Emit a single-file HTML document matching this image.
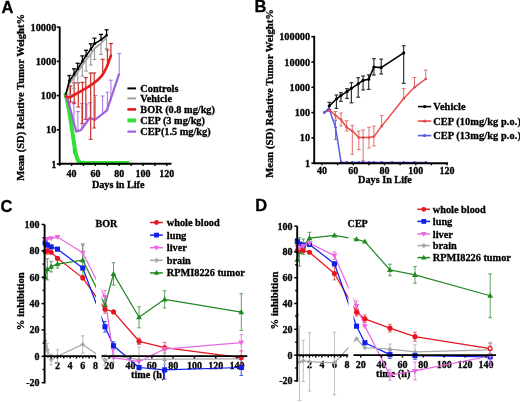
<!DOCTYPE html><html><head><meta charset="utf-8"><style>html,body{margin:0;padding:0;background:#fff;}svg{display:block;will-change:transform;filter:blur(0.45px);} text{stroke:#000;stroke-width:0.3px;}</style></head><body>
<svg width="520" height="402" viewBox="0 0 520 402">
<rect width="520" height="402" fill="#fff"/>
<defs>
<clipPath id="cL"><rect x="40" y="200" width="56" height="202"/></clipPath>
<clipPath id="cR"><rect x="101.5" y="200" width="160" height="202"/></clipPath>
<clipPath id="dL"><rect x="293" y="200" width="55.5" height="202"/></clipPath>
<clipPath id="dR"><rect x="353.5" y="200" width="160" height="202"/></clipPath>
</defs>
<text x="1.4" y="12.8" font-size="16.5" text-anchor="start" font-family='"Liberation Sans", sans-serif' font-weight="bold" fill="#000">A</text>
<text x="24.2" y="97.4" font-size="10.57" text-anchor="middle" font-family='"Liberation Serif", serif' font-weight="bold" fill="#000" transform="rotate(-90 24.2 97.4)">Mean (SD) Relative Tumor Weight%</text>
<text x="56.3" y="30.6" font-size="10.3" text-anchor="end" font-family='"Liberation Serif", serif' font-weight="bold" fill="#000">10000</text>
<text x="56.3" y="64.85" font-size="10.3" text-anchor="end" font-family='"Liberation Serif", serif' font-weight="bold" fill="#000">1000</text>
<text x="56.3" y="99.1" font-size="10.3" text-anchor="end" font-family='"Liberation Serif", serif' font-weight="bold" fill="#000">100</text>
<text x="56.3" y="133.35" font-size="10.3" text-anchor="end" font-family='"Liberation Serif", serif' font-weight="bold" fill="#000">10</text>
<text x="56.3" y="167.6" font-size="10.3" text-anchor="end" font-family='"Liberation Serif", serif' font-weight="bold" fill="#000">1</text>
<text x="71.6" y="176.8" font-size="10" text-anchor="middle" font-family='"Liberation Serif", serif' font-weight="bold" fill="#000">40</text>
<text x="95.4" y="176.8" font-size="10" text-anchor="middle" font-family='"Liberation Serif", serif' font-weight="bold" fill="#000">60</text>
<text x="119.2" y="176.8" font-size="10" text-anchor="middle" font-family='"Liberation Serif", serif' font-weight="bold" fill="#000">80</text>
<text x="143" y="176.8" font-size="10" text-anchor="middle" font-family='"Liberation Serif", serif' font-weight="bold" fill="#000">100</text>
<text x="166.8" y="176.8" font-size="10" text-anchor="middle" font-family='"Liberation Serif", serif' font-weight="bold" fill="#000">120</text>
<text x="118.2" y="187.5" font-size="10.2" text-anchor="middle" font-family='"Liberation Serif", serif' font-weight="bold" fill="#000">Days in Life</text>
<path d="M65.6,94.5 C65.97,96.05 66.87,98.88 67.8,103.8 C68.73,108.72 70.25,118.02 71.2,124 C72.15,129.98 72.83,135.28 73.5,139.7 C74.17,144.12 74.58,147.37 75.2,150.5 C75.82,153.63 76.48,156.58 77.2,158.5 C77.92,160.42 78.53,161.27 79.5,162 C80.47,162.73 74.95,162.75 83,162.9 C91.05,163.05 120.33,162.9 127.8,162.9" fill="none" stroke="#33e033" stroke-width="4.0" stroke-linejoin="round" stroke-linecap="round"/>
<line x1="73.6" y1="150" x2="73.6" y2="154" stroke="#2bc02b" stroke-width="1"/>
<line x1="72.6" y1="150" x2="74.6" y2="150" stroke="#2bc02b" stroke-width="1"/>
<line x1="70.1" y1="108.3" x2="70.1" y2="97.5" stroke="#b07be8" stroke-width="1.1"/>
<line x1="68.1" y1="97.5" x2="72.1" y2="97.5" stroke="#b07be8" stroke-width="1.1"/>
<line x1="73.9" y1="123" x2="73.9" y2="102.2" stroke="#b07be8" stroke-width="1.1"/>
<line x1="71.9" y1="102.2" x2="75.9" y2="102.2" stroke="#b07be8" stroke-width="1.1"/>
<line x1="77.9" y1="131" x2="77.9" y2="111.5" stroke="#b07be8" stroke-width="1.1"/>
<line x1="75.9" y1="111.5" x2="79.9" y2="111.5" stroke="#b07be8" stroke-width="1.1"/>
<line x1="81.8" y1="129" x2="81.8" y2="103.5" stroke="#b07be8" stroke-width="1.1"/>
<line x1="79.8" y1="103.5" x2="83.8" y2="103.5" stroke="#b07be8" stroke-width="1.1"/>
<line x1="86.8" y1="122" x2="86.8" y2="104" stroke="#b07be8" stroke-width="1.1"/>
<line x1="84.8" y1="104" x2="88.8" y2="104" stroke="#b07be8" stroke-width="1.1"/>
<line x1="90.3" y1="118" x2="90.3" y2="102.7" stroke="#b07be8" stroke-width="1.1"/>
<line x1="88.3" y1="102.7" x2="92.3" y2="102.7" stroke="#b07be8" stroke-width="1.1"/>
<line x1="95.3" y1="119.8" x2="95.3" y2="95.5" stroke="#b07be8" stroke-width="1.1"/>
<line x1="93.3" y1="95.5" x2="97.3" y2="95.5" stroke="#b07be8" stroke-width="1.1"/>
<line x1="102.6" y1="114" x2="102.6" y2="96" stroke="#b07be8" stroke-width="1.1"/>
<line x1="100.6" y1="96" x2="104.6" y2="96" stroke="#b07be8" stroke-width="1.1"/>
<line x1="107.4" y1="110.5" x2="107.4" y2="92.3" stroke="#b07be8" stroke-width="1.1"/>
<line x1="105.4" y1="92.3" x2="109.4" y2="92.3" stroke="#b07be8" stroke-width="1.1"/>
<line x1="110.9" y1="101" x2="110.9" y2="80.2" stroke="#b07be8" stroke-width="1.1"/>
<line x1="108.9" y1="80.2" x2="112.9" y2="80.2" stroke="#b07be8" stroke-width="1.1"/>
<line x1="119.2" y1="73.7" x2="119.2" y2="53.4" stroke="#b07be8" stroke-width="1.1"/>
<line x1="117.2" y1="53.4" x2="121.2" y2="53.4" stroke="#b07be8" stroke-width="1.1"/>
<polyline points="65.6,94 70.1,108.3 73.5,121.7 76.3,131.6 81,130 89.8,117.8 94.8,120 106.9,110.3 119.2,73.7" fill="none" stroke="#a25fe0" stroke-width="2.2" stroke-linejoin="round"/>
<line x1="70.5" y1="86" x2="70.5" y2="102" stroke="#c8302a" stroke-width="1.2"/>
<line x1="68.5" y1="86" x2="72.5" y2="86" stroke="#c8302a" stroke-width="1.2"/>
<line x1="68.5" y1="102" x2="72.5" y2="102" stroke="#c8302a" stroke-width="1.0"/>
<line x1="74.2" y1="82.8" x2="74.2" y2="103.7" stroke="#c8302a" stroke-width="1.2"/>
<line x1="72.2" y1="82.8" x2="76.2" y2="82.8" stroke="#c8302a" stroke-width="1.2"/>
<line x1="72.2" y1="103.7" x2="76.2" y2="103.7" stroke="#c8302a" stroke-width="1.0"/>
<line x1="78.3" y1="82.8" x2="78.3" y2="107" stroke="#c8302a" stroke-width="1.2"/>
<line x1="76.3" y1="82.8" x2="80.3" y2="82.8" stroke="#c8302a" stroke-width="1.2"/>
<line x1="76.3" y1="107" x2="80.3" y2="107" stroke="#c8302a" stroke-width="1.0"/>
<line x1="82.5" y1="82.3" x2="82.5" y2="123.7" stroke="#c8302a" stroke-width="1.2"/>
<line x1="80.5" y1="82.3" x2="84.5" y2="82.3" stroke="#c8302a" stroke-width="1.2"/>
<line x1="80.5" y1="123.7" x2="84.5" y2="123.7" stroke="#c8302a" stroke-width="1.0"/>
<line x1="85.8" y1="77.6" x2="85.8" y2="119.3" stroke="#c8302a" stroke-width="1.2"/>
<line x1="83.8" y1="77.6" x2="87.8" y2="77.6" stroke="#c8302a" stroke-width="1.2"/>
<line x1="83.8" y1="119.3" x2="87.8" y2="119.3" stroke="#c8302a" stroke-width="1.0"/>
<line x1="90.7" y1="73" x2="90.7" y2="139.3" stroke="#c8302a" stroke-width="1.2"/>
<line x1="88.7" y1="73" x2="92.7" y2="73" stroke="#c8302a" stroke-width="1.2"/>
<line x1="88.7" y1="139.3" x2="92.7" y2="139.3" stroke="#c8302a" stroke-width="1.0"/>
<line x1="94.2" y1="73" x2="94.2" y2="128" stroke="#c8302a" stroke-width="1.2"/>
<line x1="92.2" y1="73" x2="96.2" y2="73" stroke="#c8302a" stroke-width="1.2"/>
<line x1="92.2" y1="128" x2="96.2" y2="128" stroke="#c8302a" stroke-width="1.0"/>
<line x1="102.7" y1="59.3" x2="102.7" y2="75" stroke="#c8302a" stroke-width="1.2"/>
<line x1="100.7" y1="59.3" x2="104.7" y2="59.3" stroke="#c8302a" stroke-width="1.2"/>
<line x1="107.4" y1="50" x2="107.4" y2="66" stroke="#c8302a" stroke-width="1.2"/>
<line x1="105.4" y1="50" x2="109.4" y2="50" stroke="#c8302a" stroke-width="1.2"/>
<line x1="110.9" y1="43.5" x2="110.9" y2="57" stroke="#c8302a" stroke-width="1.2"/>
<line x1="108.9" y1="43.5" x2="112.9" y2="43.5" stroke="#c8302a" stroke-width="1.2"/>
<path d="M65.6,96 C66.17,96.2 67.43,97.45 69,97.2 C70.57,96.95 72.77,95.63 75,94.5 C77.23,93.37 80.23,91.65 82.4,90.4 C84.57,89.15 86.13,88.18 88,87 C89.87,85.82 91.85,84.6 93.6,83.3 C95.35,82 96.98,80.67 98.5,79.2 C100.02,77.73 101.22,76.78 102.7,74.5 C104.18,72.22 106.03,68.67 107.4,65.5 C108.77,62.33 110.32,57.17 110.9,55.5" fill="none" stroke="#e81b1b" stroke-width="2.6" stroke-linejoin="round" stroke-linecap="round"/>
<line x1="69.3" y1="84" x2="69.3" y2="95" stroke="#999" stroke-width="1.1"/>
<line x1="67.5" y1="95" x2="71.1" y2="95" stroke="#999" stroke-width="1.1"/>
<line x1="74" y1="77.5" x2="74" y2="88.5" stroke="#999" stroke-width="1.1"/>
<line x1="72.2" y1="88.5" x2="75.8" y2="88.5" stroke="#999" stroke-width="1.1"/>
<line x1="77.7" y1="72" x2="77.7" y2="83" stroke="#999" stroke-width="1.1"/>
<line x1="75.9" y1="83" x2="79.5" y2="83" stroke="#999" stroke-width="1.1"/>
<line x1="82.4" y1="65" x2="82.4" y2="76" stroke="#999" stroke-width="1.1"/>
<line x1="80.6" y1="76" x2="84.2" y2="76" stroke="#999" stroke-width="1.1"/>
<line x1="86.1" y1="60" x2="86.1" y2="71" stroke="#999" stroke-width="1.1"/>
<line x1="84.3" y1="71" x2="87.9" y2="71" stroke="#999" stroke-width="1.1"/>
<line x1="90.8" y1="54" x2="90.8" y2="65" stroke="#999" stroke-width="1.1"/>
<line x1="89" y1="65" x2="92.6" y2="65" stroke="#999" stroke-width="1.1"/>
<line x1="94.5" y1="48.5" x2="94.5" y2="59.5" stroke="#999" stroke-width="1.1"/>
<line x1="92.7" y1="59.5" x2="96.3" y2="59.5" stroke="#999" stroke-width="1.1"/>
<line x1="101" y1="43.5" x2="101" y2="54.5" stroke="#999" stroke-width="1.1"/>
<line x1="99.2" y1="54.5" x2="102.8" y2="54.5" stroke="#999" stroke-width="1.1"/>
<line x1="106.6" y1="37.5" x2="106.6" y2="48.5" stroke="#999" stroke-width="1.1"/>
<line x1="104.8" y1="48.5" x2="108.4" y2="48.5" stroke="#999" stroke-width="1.1"/>
<polyline points="65.6,95.5 69.3,84 74,77.5 77.7,72 82.4,65 86.1,60 90.8,54 94.5,48.5 101,43.5 106.6,37.5" fill="none" stroke="#a0a0a0" stroke-width="1.8" stroke-linejoin="round"/>
<line x1="69.3" y1="81" x2="69.3" y2="75.5" stroke="#000" stroke-width="1.2"/>
<line x1="67.3" y1="75.5" x2="71.3" y2="75.5" stroke="#000" stroke-width="1.3"/>
<line x1="74" y1="74.4" x2="74" y2="68.9" stroke="#000" stroke-width="1.2"/>
<line x1="72" y1="68.9" x2="76" y2="68.9" stroke="#000" stroke-width="1.3"/>
<line x1="77.7" y1="68.8" x2="77.7" y2="63.3" stroke="#000" stroke-width="1.2"/>
<line x1="75.7" y1="63.3" x2="79.7" y2="63.3" stroke="#000" stroke-width="1.3"/>
<line x1="82.4" y1="61.4" x2="82.4" y2="55.9" stroke="#000" stroke-width="1.2"/>
<line x1="80.4" y1="55.9" x2="84.4" y2="55.9" stroke="#000" stroke-width="1.3"/>
<line x1="86.1" y1="55.8" x2="86.1" y2="50.3" stroke="#000" stroke-width="1.2"/>
<line x1="84.1" y1="50.3" x2="88.1" y2="50.3" stroke="#000" stroke-width="1.3"/>
<line x1="90.8" y1="49.3" x2="90.8" y2="43.8" stroke="#000" stroke-width="1.2"/>
<line x1="88.8" y1="43.8" x2="92.8" y2="43.8" stroke="#000" stroke-width="1.3"/>
<line x1="94.5" y1="43.7" x2="94.5" y2="38.2" stroke="#000" stroke-width="1.2"/>
<line x1="92.5" y1="38.2" x2="96.5" y2="38.2" stroke="#000" stroke-width="1.3"/>
<line x1="101" y1="39.9" x2="101" y2="34.4" stroke="#000" stroke-width="1.2"/>
<line x1="99" y1="34.4" x2="103" y2="34.4" stroke="#000" stroke-width="1.3"/>
<line x1="106.6" y1="35.3" x2="106.6" y2="29.8" stroke="#000" stroke-width="1.2"/>
<line x1="104.6" y1="29.8" x2="108.6" y2="29.8" stroke="#000" stroke-width="1.3"/>
<polyline points="65.6,95 69.3,81 74,74.4 77.7,68.8 82.4,61.4 86.1,55.8 90.8,49.3 94.5,43.7 101,39.9 106.6,35.3" fill="none" stroke="#000" stroke-width="1.6" stroke-linejoin="round"/>
<rect x="68.1" y="79.8" width="2.4" height="2.4" fill="#000"/>
<rect x="72.8" y="73.2" width="2.4" height="2.4" fill="#000"/>
<rect x="76.5" y="67.6" width="2.4" height="2.4" fill="#000"/>
<rect x="81.2" y="60.2" width="2.4" height="2.4" fill="#000"/>
<rect x="84.9" y="54.6" width="2.4" height="2.4" fill="#000"/>
<rect x="89.6" y="48.1" width="2.4" height="2.4" fill="#000"/>
<rect x="93.3" y="42.5" width="2.4" height="2.4" fill="#000"/>
<rect x="99.8" y="38.7" width="2.4" height="2.4" fill="#000"/>
<rect x="105.4" y="34.1" width="2.4" height="2.4" fill="#000"/>
<line x1="59.7" y1="26.7" x2="59.7" y2="164.7" stroke="#000" stroke-width="1.9"/>
<line x1="58.8" y1="163.8" x2="171.5" y2="163.8" stroke="#000" stroke-width="1.9"/>
<line x1="56.8" y1="27.1" x2="59.7" y2="27.1" stroke="#000" stroke-width="1.6"/>
<line x1="56.8" y1="61.35" x2="59.7" y2="61.35" stroke="#000" stroke-width="1.6"/>
<line x1="56.8" y1="95.6" x2="59.7" y2="95.6" stroke="#000" stroke-width="1.6"/>
<line x1="56.8" y1="129.85" x2="59.7" y2="129.85" stroke="#000" stroke-width="1.6"/>
<line x1="56.8" y1="164.1" x2="59.7" y2="164.1" stroke="#000" stroke-width="1.6"/>
<line x1="59.7" y1="163.8" x2="59.7" y2="166" stroke="#000" stroke-width="1.4"/>
<line x1="71.6" y1="163.8" x2="71.6" y2="166" stroke="#000" stroke-width="1.4"/>
<line x1="83.5" y1="163.8" x2="83.5" y2="166" stroke="#000" stroke-width="1.4"/>
<line x1="95.4" y1="163.8" x2="95.4" y2="166" stroke="#000" stroke-width="1.4"/>
<line x1="107.3" y1="163.8" x2="107.3" y2="166" stroke="#000" stroke-width="1.4"/>
<line x1="119.2" y1="163.8" x2="119.2" y2="166" stroke="#000" stroke-width="1.4"/>
<line x1="131.1" y1="163.8" x2="131.1" y2="166" stroke="#000" stroke-width="1.4"/>
<line x1="143" y1="163.8" x2="143" y2="166" stroke="#000" stroke-width="1.4"/>
<line x1="154.9" y1="163.8" x2="154.9" y2="166" stroke="#000" stroke-width="1.4"/>
<line x1="166.8" y1="163.8" x2="166.8" y2="166" stroke="#000" stroke-width="1.4"/>
<line x1="127.4" y1="88.4" x2="136.1" y2="88.4" stroke="#000" stroke-width="2.0"/>
<text x="140.3" y="91.9" font-size="10.3" text-anchor="start" font-family='"Liberation Serif", serif' font-weight="bold" fill="#000">Controls</text>
<line x1="127.4" y1="98.4" x2="136.1" y2="98.4" stroke="#a0a0a0" stroke-width="2.0"/>
<text x="140.3" y="101.9" font-size="10.3" text-anchor="start" font-family='"Liberation Serif", serif' font-weight="bold" fill="#000">Vehicle</text>
<line x1="127.4" y1="109.4" x2="136.1" y2="109.4" stroke="#e81b1b" stroke-width="2.6"/>
<text x="140.3" y="112.9" font-size="10.3" text-anchor="start" font-family='"Liberation Serif", serif' font-weight="bold" fill="#000">BOR (0.8 mg/kg)</text>
<line x1="127.4" y1="120.4" x2="136.1" y2="120.4" stroke="#33e033" stroke-width="4"/>
<text x="140.3" y="123.9" font-size="10.3" text-anchor="start" font-family='"Liberation Serif", serif' font-weight="bold" fill="#000">CEP (3 mg/kg)</text>
<line x1="127.4" y1="131.6" x2="136.1" y2="131.6" stroke="#a25fe0" stroke-width="2.2"/>
<text x="140.3" y="135.1" font-size="10.3" text-anchor="start" font-family='"Liberation Serif", serif' font-weight="bold" fill="#000">CEP(1.5 mg/kg)</text>
<text x="254.6" y="12.4" font-size="16.5" text-anchor="start" font-family='"Liberation Sans", sans-serif' font-weight="bold" fill="#000">B</text>
<text x="273.2" y="93.4" font-size="10.7" text-anchor="middle" font-family='"Liberation Serif", serif' font-weight="bold" fill="#000" transform="rotate(-90 273.2 93.4)">Mean (SD) Relative Tumor Weight%</text>
<text x="310.1" y="166.7" font-size="10.3" text-anchor="end" font-family='"Liberation Serif", serif' font-weight="bold" fill="#000">1</text>
<text x="310.1" y="141.4" font-size="10.3" text-anchor="end" font-family='"Liberation Serif", serif' font-weight="bold" fill="#000">10</text>
<text x="310.1" y="116.1" font-size="10.3" text-anchor="end" font-family='"Liberation Serif", serif' font-weight="bold" fill="#000">100</text>
<text x="310.1" y="90.8" font-size="10.3" text-anchor="end" font-family='"Liberation Serif", serif' font-weight="bold" fill="#000">1000</text>
<text x="310.1" y="65.5" font-size="10.3" text-anchor="end" font-family='"Liberation Serif", serif' font-weight="bold" fill="#000">10000</text>
<text x="310.1" y="40.2" font-size="10.3" text-anchor="end" font-family='"Liberation Serif", serif' font-weight="bold" fill="#000">100000</text>
<text x="322" y="173.6" font-size="10" text-anchor="middle" font-family='"Liberation Serif", serif' font-weight="bold" fill="#000">40</text>
<text x="353.25" y="173.6" font-size="10" text-anchor="middle" font-family='"Liberation Serif", serif' font-weight="bold" fill="#000">60</text>
<text x="384.5" y="173.6" font-size="10" text-anchor="middle" font-family='"Liberation Serif", serif' font-weight="bold" fill="#000">80</text>
<text x="415.75" y="173.6" font-size="10" text-anchor="middle" font-family='"Liberation Serif", serif' font-weight="bold" fill="#000">100</text>
<text x="447" y="173.6" font-size="10" text-anchor="middle" font-family='"Liberation Serif", serif' font-weight="bold" fill="#000">120</text>
<text x="385" y="183.2" font-size="10.2" text-anchor="middle" font-family='"Liberation Serif", serif' font-weight="bold" fill="#000">Days In Life</text>
<line x1="335.5" y1="111.5" x2="335.5" y2="119" stroke="#e07070" stroke-width="1.0"/>
<line x1="333.7" y1="111.5" x2="337.3" y2="111.5" stroke="#e07070" stroke-width="1.0"/>
<line x1="333.7" y1="119" x2="337.3" y2="119" stroke="#e07070" stroke-width="1.0"/>
<line x1="341.1" y1="113" x2="341.1" y2="126" stroke="#e07070" stroke-width="1.0"/>
<line x1="339.3" y1="113" x2="342.9" y2="113" stroke="#e07070" stroke-width="1.0"/>
<line x1="339.3" y1="126" x2="342.9" y2="126" stroke="#e07070" stroke-width="1.0"/>
<line x1="346.7" y1="120.7" x2="346.7" y2="131" stroke="#e07070" stroke-width="1.0"/>
<line x1="344.9" y1="120.7" x2="348.5" y2="120.7" stroke="#e07070" stroke-width="1.0"/>
<line x1="344.9" y1="131" x2="348.5" y2="131" stroke="#e07070" stroke-width="1.0"/>
<line x1="352.3" y1="125.4" x2="352.3" y2="154.3" stroke="#e07070" stroke-width="1.0"/>
<line x1="350.5" y1="125.4" x2="354.1" y2="125.4" stroke="#e07070" stroke-width="1.0"/>
<line x1="350.5" y1="154.3" x2="354.1" y2="154.3" stroke="#e07070" stroke-width="1.0"/>
<line x1="358.8" y1="131" x2="358.8" y2="149.6" stroke="#e07070" stroke-width="1.0"/>
<line x1="357" y1="131" x2="360.6" y2="131" stroke="#e07070" stroke-width="1.0"/>
<line x1="357" y1="149.6" x2="360.6" y2="149.6" stroke="#e07070" stroke-width="1.0"/>
<line x1="363.1" y1="130" x2="363.1" y2="160.8" stroke="#e07070" stroke-width="1.0"/>
<line x1="361.3" y1="130" x2="364.9" y2="130" stroke="#e07070" stroke-width="1.0"/>
<line x1="361.3" y1="160.8" x2="364.9" y2="160.8" stroke="#e07070" stroke-width="1.0"/>
<line x1="369" y1="127.3" x2="369" y2="148" stroke="#e07070" stroke-width="1.0"/>
<line x1="367.2" y1="127.3" x2="370.8" y2="127.3" stroke="#e07070" stroke-width="1.0"/>
<line x1="367.2" y1="148" x2="370.8" y2="148" stroke="#e07070" stroke-width="1.0"/>
<line x1="373.9" y1="126.1" x2="373.9" y2="146" stroke="#e07070" stroke-width="1.0"/>
<line x1="372.1" y1="126.1" x2="375.7" y2="126.1" stroke="#e07070" stroke-width="1.0"/>
<line x1="372.1" y1="146" x2="375.7" y2="146" stroke="#e07070" stroke-width="1.0"/>
<line x1="381.7" y1="115.6" x2="381.7" y2="126.1" stroke="#e07070" stroke-width="1.0"/>
<line x1="379.9" y1="115.6" x2="383.5" y2="115.6" stroke="#e07070" stroke-width="1.0"/>
<line x1="403.7" y1="88.7" x2="403.7" y2="98.5" stroke="#e07070" stroke-width="1.0"/>
<line x1="401.9" y1="88.7" x2="405.5" y2="88.7" stroke="#e07070" stroke-width="1.0"/>
<line x1="414.5" y1="77.5" x2="414.5" y2="87.3" stroke="#e07070" stroke-width="1.0"/>
<line x1="412.7" y1="77.5" x2="416.3" y2="77.5" stroke="#e07070" stroke-width="1.0"/>
<line x1="425.7" y1="70.1" x2="425.7" y2="79" stroke="#e07070" stroke-width="1.0"/>
<line x1="423.9" y1="70.1" x2="427.5" y2="70.1" stroke="#e07070" stroke-width="1.0"/>
<polyline points="324.3,112.4 329.9,110.5 335.5,115.2 341.1,119.8 346.7,127.3 352.3,131 358.8,137.5 363.1,137.5 369,137.5 373.9,136.6 381.7,126.1 403.7,98.5 414.5,87.3 425.7,79" fill="none" stroke="#e84a4a" stroke-width="1.5" stroke-linejoin="round"/>
<line x1="335.5" y1="120.7" x2="335.5" y2="139.4" stroke="#7070e0" stroke-width="1.0"/>
<line x1="333.9" y1="120.7" x2="337.1" y2="120.7" stroke="#7070e0" stroke-width="1.0"/>
<line x1="333.9" y1="139.4" x2="337.1" y2="139.4" stroke="#7070e0" stroke-width="1.0"/>
<polyline points="324.3,112.4 329,108.6 335.5,127.3 341.1,162.3" fill="none" stroke="#5a5ae8" stroke-width="1.5" stroke-linejoin="round"/>
<polyline points="341.1,162.5 426,162.5" fill="none" stroke="#5a5ae8" stroke-width="1.5" stroke-linejoin="round"/>
<line x1="329.3" y1="102.3" x2="329.3" y2="109.6" stroke="#222" stroke-width="1.1"/>
<line x1="327.4" y1="102.3" x2="331.2" y2="102.3" stroke="#222" stroke-width="1.1"/>
<line x1="327.4" y1="109.6" x2="331.2" y2="109.6" stroke="#222" stroke-width="1.1"/>
<line x1="336.4" y1="95" x2="336.4" y2="108.4" stroke="#222" stroke-width="1.1"/>
<line x1="334.5" y1="95" x2="338.3" y2="95" stroke="#222" stroke-width="1.1"/>
<line x1="334.5" y1="108.4" x2="338.3" y2="108.4" stroke="#222" stroke-width="1.1"/>
<line x1="340.9" y1="92.7" x2="340.9" y2="101.3" stroke="#222" stroke-width="1.1"/>
<line x1="339" y1="92.7" x2="342.8" y2="92.7" stroke="#222" stroke-width="1.1"/>
<line x1="339" y1="101.3" x2="342.8" y2="101.3" stroke="#222" stroke-width="1.1"/>
<line x1="347" y1="88.7" x2="347" y2="98.4" stroke="#222" stroke-width="1.1"/>
<line x1="345.1" y1="88.7" x2="348.9" y2="88.7" stroke="#222" stroke-width="1.1"/>
<line x1="345.1" y1="98.4" x2="348.9" y2="98.4" stroke="#222" stroke-width="1.1"/>
<line x1="351.4" y1="82.7" x2="351.4" y2="102.8" stroke="#222" stroke-width="1.1"/>
<line x1="349.5" y1="82.7" x2="353.3" y2="82.7" stroke="#222" stroke-width="1.1"/>
<line x1="349.5" y1="102.8" x2="353.3" y2="102.8" stroke="#222" stroke-width="1.1"/>
<line x1="358.2" y1="77.7" x2="358.2" y2="97.2" stroke="#222" stroke-width="1.1"/>
<line x1="356.3" y1="77.7" x2="360.1" y2="77.7" stroke="#222" stroke-width="1.1"/>
<line x1="356.3" y1="97.2" x2="360.1" y2="97.2" stroke="#222" stroke-width="1.1"/>
<line x1="363.1" y1="76" x2="363.1" y2="90" stroke="#222" stroke-width="1.1"/>
<line x1="361.2" y1="76" x2="365" y2="76" stroke="#222" stroke-width="1.1"/>
<line x1="361.2" y1="90" x2="365" y2="90" stroke="#222" stroke-width="1.1"/>
<line x1="368.7" y1="74.8" x2="368.7" y2="89.4" stroke="#222" stroke-width="1.1"/>
<line x1="366.8" y1="74.8" x2="370.6" y2="74.8" stroke="#222" stroke-width="1.1"/>
<line x1="366.8" y1="89.4" x2="370.6" y2="89.4" stroke="#222" stroke-width="1.1"/>
<line x1="373.9" y1="58.7" x2="373.9" y2="75" stroke="#222" stroke-width="1.1"/>
<line x1="372" y1="58.7" x2="375.8" y2="58.7" stroke="#222" stroke-width="1.1"/>
<line x1="372" y1="75" x2="375.8" y2="75" stroke="#222" stroke-width="1.1"/>
<line x1="381.2" y1="59.1" x2="381.2" y2="74" stroke="#222" stroke-width="1.1"/>
<line x1="379.3" y1="59.1" x2="383.1" y2="59.1" stroke="#222" stroke-width="1.1"/>
<line x1="379.3" y1="74" x2="383.1" y2="74" stroke="#222" stroke-width="1.1"/>
<line x1="403.7" y1="45.7" x2="403.7" y2="83.3" stroke="#222" stroke-width="1.1"/>
<line x1="401.8" y1="45.7" x2="405.6" y2="45.7" stroke="#222" stroke-width="1.1"/>
<line x1="401.8" y1="83.3" x2="405.6" y2="83.3" stroke="#222" stroke-width="1.1"/>
<polyline points="329.3,105.8 336.4,99 340.9,95.6 347,91.6 351.4,88.3 358.2,83.8 363.1,80.4 368.7,79.3 373.9,67 381.2,67.6 403.7,52.9" fill="none" stroke="#000" stroke-width="1.6" stroke-linejoin="round"/>
<circle cx="324.3" cy="112.4" r="1.3" fill="#e84a4a"/>
<circle cx="329.9" cy="110.5" r="1.3" fill="#e84a4a"/>
<circle cx="335.5" cy="115.2" r="1.3" fill="#e84a4a"/>
<circle cx="341.1" cy="119.8" r="1.3" fill="#e84a4a"/>
<circle cx="346.7" cy="127.3" r="1.3" fill="#e84a4a"/>
<circle cx="352.3" cy="131" r="1.3" fill="#e84a4a"/>
<circle cx="358.8" cy="137.5" r="1.3" fill="#e84a4a"/>
<circle cx="363.1" cy="137.5" r="1.3" fill="#e84a4a"/>
<circle cx="369" cy="137.5" r="1.3" fill="#e84a4a"/>
<circle cx="373.9" cy="136.6" r="1.3" fill="#e84a4a"/>
<circle cx="381.7" cy="126.1" r="1.3" fill="#e84a4a"/>
<circle cx="403.7" cy="98.5" r="1.3" fill="#e84a4a"/>
<circle cx="414.5" cy="87.3" r="1.3" fill="#e84a4a"/>
<circle cx="425.7" cy="79" r="1.3" fill="#e84a4a"/>
<circle cx="324.3" cy="112.4" r="1.3" fill="#5a5ae8"/>
<circle cx="329" cy="108.6" r="1.3" fill="#5a5ae8"/>
<circle cx="335.5" cy="127.3" r="1.3" fill="#5a5ae8"/>
<circle cx="341.1" cy="162.3" r="1.3" fill="#5a5ae8"/>
<circle cx="346.7" cy="162.5" r="1.4" fill="#5a5ae8"/>
<circle cx="352.3" cy="162.5" r="1.4" fill="#5a5ae8"/>
<circle cx="358.8" cy="162.5" r="1.4" fill="#5a5ae8"/>
<circle cx="363.1" cy="162.5" r="1.4" fill="#5a5ae8"/>
<circle cx="369" cy="162.5" r="1.4" fill="#5a5ae8"/>
<circle cx="373.9" cy="162.5" r="1.4" fill="#5a5ae8"/>
<circle cx="381.7" cy="162.5" r="1.4" fill="#5a5ae8"/>
<circle cx="392" cy="162.5" r="1.4" fill="#5a5ae8"/>
<circle cx="403.7" cy="162.5" r="1.4" fill="#5a5ae8"/>
<circle cx="414.5" cy="162.5" r="1.4" fill="#5a5ae8"/>
<circle cx="426" cy="162.5" r="1.4" fill="#5a5ae8"/>
<circle cx="329.3" cy="105.8" r="1.6" fill="#000"/>
<circle cx="336.4" cy="99" r="1.6" fill="#000"/>
<circle cx="340.9" cy="95.6" r="1.6" fill="#000"/>
<circle cx="347" cy="91.6" r="1.6" fill="#000"/>
<circle cx="351.4" cy="88.3" r="1.6" fill="#000"/>
<circle cx="358.2" cy="83.8" r="1.6" fill="#000"/>
<circle cx="363.1" cy="80.4" r="1.6" fill="#000"/>
<circle cx="368.7" cy="79.3" r="1.6" fill="#000"/>
<circle cx="373.9" cy="67" r="1.6" fill="#000"/>
<circle cx="381.2" cy="67.6" r="1.6" fill="#000"/>
<circle cx="403.7" cy="52.9" r="1.6" fill="#000"/>
<line x1="314.2" y1="35.8" x2="314.2" y2="164.1" stroke="#000" stroke-width="1.9"/>
<line x1="313.3" y1="163.2" x2="448" y2="163.2" stroke="#000" stroke-width="1.9"/>
<line x1="311.4" y1="163.2" x2="314.2" y2="163.2" stroke="#000" stroke-width="1.6"/>
<line x1="311.4" y1="137.9" x2="314.2" y2="137.9" stroke="#000" stroke-width="1.6"/>
<line x1="311.4" y1="112.6" x2="314.2" y2="112.6" stroke="#000" stroke-width="1.6"/>
<line x1="311.4" y1="87.3" x2="314.2" y2="87.3" stroke="#000" stroke-width="1.6"/>
<line x1="311.4" y1="62" x2="314.2" y2="62" stroke="#000" stroke-width="1.6"/>
<line x1="311.4" y1="36.7" x2="314.2" y2="36.7" stroke="#000" stroke-width="1.6"/>
<line x1="322" y1="163.2" x2="322" y2="165.3" stroke="#000" stroke-width="1.4"/>
<line x1="337.62" y1="163.2" x2="337.62" y2="165.3" stroke="#000" stroke-width="1.4"/>
<line x1="353.25" y1="163.2" x2="353.25" y2="165.3" stroke="#000" stroke-width="1.4"/>
<line x1="368.88" y1="163.2" x2="368.88" y2="165.3" stroke="#000" stroke-width="1.4"/>
<line x1="384.5" y1="163.2" x2="384.5" y2="165.3" stroke="#000" stroke-width="1.4"/>
<line x1="400.12" y1="163.2" x2="400.12" y2="165.3" stroke="#000" stroke-width="1.4"/>
<line x1="415.75" y1="163.2" x2="415.75" y2="165.3" stroke="#000" stroke-width="1.4"/>
<line x1="431.38" y1="163.2" x2="431.38" y2="165.3" stroke="#000" stroke-width="1.4"/>
<line x1="447" y1="163.2" x2="447" y2="165.3" stroke="#000" stroke-width="1.4"/>
<line x1="418" y1="106.6" x2="431.2" y2="106.6" stroke="#000" stroke-width="1.6"/>
<circle cx="424.6" cy="106.6" r="1.6" fill="#000"/>
<text x="433.3" y="110" font-size="10.35" text-anchor="start" font-family='"Liberation Serif", serif' font-weight="bold" fill="#000" letter-spacing="0.08">Vehicle</text>
<line x1="418" y1="121.1" x2="431.2" y2="121.1" stroke="#e84a4a" stroke-width="1.6"/>
<circle cx="424.6" cy="121.1" r="1.6" fill="#e84a4a"/>
<text x="433.3" y="124.5" font-size="10.35" text-anchor="start" font-family='"Liberation Serif", serif' font-weight="bold" fill="#000" letter-spacing="0.08">CEP (10mg/kg p.o.)</text>
<line x1="418" y1="135.6" x2="431.2" y2="135.6" stroke="#5a5ae8" stroke-width="1.6"/>
<circle cx="424.6" cy="135.6" r="1.6" fill="#5a5ae8"/>
<text x="433.3" y="139" font-size="10.35" text-anchor="start" font-family='"Liberation Serif", serif' font-weight="bold" fill="#000" letter-spacing="0.08">CEP (13mg/kg p.o.)</text>
<text x="0.4" y="212" font-size="16.5" text-anchor="start" font-family='"Liberation Sans", sans-serif' font-weight="bold" fill="#000">C</text>
<text x="23.9" y="301.2" font-size="10.7" text-anchor="middle" font-family='"Liberation Serif", serif' font-weight="bold" fill="#000" transform="rotate(-90 23.9 301.2)">% inhibition</text>
<text x="39.6" y="227.9" font-size="10" text-anchor="end" font-family='"Liberation Serif", serif' font-weight="bold" fill="#000">100</text>
<text x="39.6" y="254.26" font-size="10" text-anchor="end" font-family='"Liberation Serif", serif' font-weight="bold" fill="#000">80</text>
<text x="39.6" y="280.62" font-size="10" text-anchor="end" font-family='"Liberation Serif", serif' font-weight="bold" fill="#000">60</text>
<text x="39.6" y="306.98" font-size="10" text-anchor="end" font-family='"Liberation Serif", serif' font-weight="bold" fill="#000">40</text>
<text x="39.6" y="333.34" font-size="10" text-anchor="end" font-family='"Liberation Serif", serif' font-weight="bold" fill="#000">20</text>
<text x="39.6" y="359.7" font-size="10" text-anchor="end" font-family='"Liberation Serif", serif' font-weight="bold" fill="#000">0</text>
<text x="39.6" y="386.06" font-size="10" text-anchor="end" font-family='"Liberation Serif", serif' font-weight="bold" fill="#000">-20</text>
<text x="57.46" y="369.3" font-size="10" text-anchor="middle" font-family='"Liberation Serif", serif' font-weight="bold" fill="#000">2</text>
<text x="70.12" y="369.3" font-size="10" text-anchor="middle" font-family='"Liberation Serif", serif' font-weight="bold" fill="#000">4</text>
<text x="82.78" y="369.3" font-size="10" text-anchor="middle" font-family='"Liberation Serif", serif' font-weight="bold" fill="#000">6</text>
<text x="95.44" y="369.3" font-size="10" text-anchor="middle" font-family='"Liberation Serif", serif' font-weight="bold" fill="#000">8</text>
<text x="109.24" y="369.3" font-size="10" text-anchor="middle" font-family='"Liberation Serif", serif' font-weight="bold" fill="#000">20</text>
<text x="130.54" y="369.3" font-size="10" text-anchor="middle" font-family='"Liberation Serif", serif' font-weight="bold" fill="#000">40</text>
<text x="151.84" y="369.3" font-size="10" text-anchor="middle" font-family='"Liberation Serif", serif' font-weight="bold" fill="#000">60</text>
<text x="173.14" y="369.3" font-size="10" text-anchor="middle" font-family='"Liberation Serif", serif' font-weight="bold" fill="#000">80</text>
<text x="194.44" y="369.3" font-size="10" text-anchor="middle" font-family='"Liberation Serif", serif' font-weight="bold" fill="#000">100</text>
<text x="215.74" y="369.3" font-size="10" text-anchor="middle" font-family='"Liberation Serif", serif' font-weight="bold" fill="#000">120</text>
<text x="237.04" y="369.3" font-size="10" text-anchor="middle" font-family='"Liberation Serif", serif' font-weight="bold" fill="#000">140</text>
<text x="131" y="378" font-size="10.2" text-anchor="start" font-family='"Liberation Serif", serif' font-weight="bold" fill="#000">time (h)</text>
<text x="95.5" y="227.2" font-size="10.1" text-anchor="start" font-family='"Liberation Serif", serif' font-weight="bold" fill="#000">BOR</text>
<g clip-path="url(#cL)">
<line x1="47.33" y1="247.56" x2="47.33" y2="254.16" stroke="#e05050" stroke-width="0.9"/>
<line x1="45.53" y1="247.56" x2="49.13" y2="247.56" stroke="#e05050" stroke-width="0.9"/>
<line x1="45.53" y1="254.16" x2="49.13" y2="254.16" stroke="#e05050" stroke-width="0.9"/>
<line x1="104.98" y1="305.29" x2="104.98" y2="313.2" stroke="#e05050" stroke-width="0.9"/>
<line x1="103.18" y1="305.29" x2="106.78" y2="305.29" stroke="#e05050" stroke-width="0.9"/>
<line x1="103.18" y1="313.2" x2="106.78" y2="313.2" stroke="#e05050" stroke-width="0.9"/>
<line x1="139.06" y1="337.98" x2="139.06" y2="344.57" stroke="#e05050" stroke-width="0.9"/>
<line x1="137.26" y1="337.98" x2="140.86" y2="337.98" stroke="#e05050" stroke-width="0.9"/>
<line x1="137.26" y1="344.57" x2="140.86" y2="344.57" stroke="#e05050" stroke-width="0.9"/>
<line x1="164.62" y1="342.46" x2="164.62" y2="353" stroke="#e05050" stroke-width="0.9"/>
<line x1="162.82" y1="342.46" x2="166.42" y2="342.46" stroke="#e05050" stroke-width="0.9"/>
<line x1="162.82" y1="353" x2="166.42" y2="353" stroke="#e05050" stroke-width="0.9"/>
<line x1="241.3" y1="351.03" x2="241.3" y2="364.21" stroke="#e05050" stroke-width="0.9"/>
<line x1="239.5" y1="351.03" x2="243.1" y2="351.03" stroke="#e05050" stroke-width="0.9"/>
<line x1="239.5" y1="364.21" x2="243.1" y2="364.21" stroke="#e05050" stroke-width="0.9"/>
<line x1="104.98" y1="321.5" x2="104.98" y2="332.05" stroke="#3040e0" stroke-width="0.9"/>
<line x1="103.18" y1="321.5" x2="106.78" y2="321.5" stroke="#3040e0" stroke-width="0.9"/>
<line x1="103.18" y1="332.05" x2="106.78" y2="332.05" stroke="#3040e0" stroke-width="0.9"/>
<line x1="113.5" y1="341.8" x2="113.5" y2="349.71" stroke="#3040e0" stroke-width="0.9"/>
<line x1="111.7" y1="341.8" x2="115.3" y2="341.8" stroke="#3040e0" stroke-width="0.9"/>
<line x1="111.7" y1="349.71" x2="115.3" y2="349.71" stroke="#3040e0" stroke-width="0.9"/>
<line x1="164.62" y1="360.65" x2="164.62" y2="379.1" stroke="#3040e0" stroke-width="0.9"/>
<line x1="162.82" y1="360.65" x2="166.42" y2="360.65" stroke="#3040e0" stroke-width="0.9"/>
<line x1="162.82" y1="379.1" x2="166.42" y2="379.1" stroke="#3040e0" stroke-width="0.9"/>
<line x1="241.3" y1="359.6" x2="241.3" y2="375.41" stroke="#3040e0" stroke-width="0.9"/>
<line x1="239.5" y1="359.6" x2="243.1" y2="359.6" stroke="#3040e0" stroke-width="0.9"/>
<line x1="239.5" y1="375.41" x2="243.1" y2="375.41" stroke="#3040e0" stroke-width="0.9"/>
<line x1="82.78" y1="243.61" x2="82.78" y2="262.06" stroke="#e080d8" stroke-width="0.9"/>
<line x1="80.98" y1="243.61" x2="84.58" y2="243.61" stroke="#e080d8" stroke-width="0.9"/>
<line x1="80.98" y1="262.06" x2="84.58" y2="262.06" stroke="#e080d8" stroke-width="0.9"/>
<line x1="104.98" y1="290.4" x2="104.98" y2="303.58" stroke="#e080d8" stroke-width="0.9"/>
<line x1="103.18" y1="290.4" x2="106.78" y2="290.4" stroke="#e080d8" stroke-width="0.9"/>
<line x1="103.18" y1="303.58" x2="106.78" y2="303.58" stroke="#e080d8" stroke-width="0.9"/>
<line x1="164.62" y1="342.46" x2="164.62" y2="355.64" stroke="#e080d8" stroke-width="0.9"/>
<line x1="162.82" y1="342.46" x2="166.42" y2="342.46" stroke="#e080d8" stroke-width="0.9"/>
<line x1="162.82" y1="355.64" x2="166.42" y2="355.64" stroke="#e080d8" stroke-width="0.9"/>
<line x1="241.3" y1="334.68" x2="241.3" y2="350.5" stroke="#e080d8" stroke-width="0.9"/>
<line x1="239.5" y1="334.68" x2="243.1" y2="334.68" stroke="#e080d8" stroke-width="0.9"/>
<line x1="239.5" y1="350.5" x2="243.1" y2="350.5" stroke="#e080d8" stroke-width="0.9"/>
<line x1="45.12" y1="334.29" x2="45.12" y2="347.47" stroke="#b0b0b0" stroke-width="0.9"/>
<line x1="43.32" y1="334.29" x2="46.92" y2="334.29" stroke="#b0b0b0" stroke-width="0.9"/>
<line x1="43.32" y1="347.47" x2="46.92" y2="347.47" stroke="#b0b0b0" stroke-width="0.9"/>
<line x1="47.33" y1="343.25" x2="47.33" y2="356.43" stroke="#b0b0b0" stroke-width="0.9"/>
<line x1="45.53" y1="343.25" x2="49.13" y2="343.25" stroke="#b0b0b0" stroke-width="0.9"/>
<line x1="45.53" y1="356.43" x2="49.13" y2="356.43" stroke="#b0b0b0" stroke-width="0.9"/>
<line x1="51.13" y1="354.32" x2="51.13" y2="364.87" stroke="#b0b0b0" stroke-width="0.9"/>
<line x1="49.33" y1="354.32" x2="52.93" y2="354.32" stroke="#b0b0b0" stroke-width="0.9"/>
<line x1="49.33" y1="364.87" x2="52.93" y2="364.87" stroke="#b0b0b0" stroke-width="0.9"/>
<line x1="57.46" y1="349.71" x2="57.46" y2="362.89" stroke="#b0b0b0" stroke-width="0.9"/>
<line x1="55.66" y1="349.71" x2="59.26" y2="349.71" stroke="#b0b0b0" stroke-width="0.9"/>
<line x1="55.66" y1="362.89" x2="59.26" y2="362.89" stroke="#b0b0b0" stroke-width="0.9"/>
<line x1="82.78" y1="335.87" x2="82.78" y2="353" stroke="#b0b0b0" stroke-width="0.9"/>
<line x1="80.98" y1="335.87" x2="84.58" y2="335.87" stroke="#b0b0b0" stroke-width="0.9"/>
<line x1="80.98" y1="353" x2="84.58" y2="353" stroke="#b0b0b0" stroke-width="0.9"/>
<line x1="104.98" y1="354.98" x2="104.98" y2="365.53" stroke="#b0b0b0" stroke-width="0.9"/>
<line x1="103.18" y1="354.98" x2="106.78" y2="354.98" stroke="#b0b0b0" stroke-width="0.9"/>
<line x1="103.18" y1="365.53" x2="106.78" y2="365.53" stroke="#b0b0b0" stroke-width="0.9"/>
<line x1="113.5" y1="349.05" x2="113.5" y2="362.23" stroke="#b0b0b0" stroke-width="0.9"/>
<line x1="111.7" y1="349.05" x2="115.3" y2="349.05" stroke="#b0b0b0" stroke-width="0.9"/>
<line x1="111.7" y1="362.23" x2="115.3" y2="362.23" stroke="#b0b0b0" stroke-width="0.9"/>
<line x1="139.06" y1="347.07" x2="139.06" y2="370.8" stroke="#b0b0b0" stroke-width="0.9"/>
<line x1="137.26" y1="347.07" x2="140.86" y2="347.07" stroke="#b0b0b0" stroke-width="0.9"/>
<line x1="137.26" y1="370.8" x2="140.86" y2="370.8" stroke="#b0b0b0" stroke-width="0.9"/>
<line x1="164.62" y1="351.03" x2="164.62" y2="364.21" stroke="#b0b0b0" stroke-width="0.9"/>
<line x1="162.82" y1="351.03" x2="166.42" y2="351.03" stroke="#b0b0b0" stroke-width="0.9"/>
<line x1="162.82" y1="364.21" x2="166.42" y2="364.21" stroke="#b0b0b0" stroke-width="0.9"/>
<line x1="47.33" y1="258.77" x2="47.33" y2="279.86" stroke="#4a9a4a" stroke-width="0.9"/>
<line x1="45.53" y1="258.77" x2="49.13" y2="258.77" stroke="#4a9a4a" stroke-width="0.9"/>
<line x1="45.53" y1="279.86" x2="49.13" y2="279.86" stroke="#4a9a4a" stroke-width="0.9"/>
<line x1="51.13" y1="261.4" x2="51.13" y2="271.95" stroke="#4a9a4a" stroke-width="0.9"/>
<line x1="49.33" y1="261.4" x2="52.93" y2="261.4" stroke="#4a9a4a" stroke-width="0.9"/>
<line x1="49.33" y1="271.95" x2="52.93" y2="271.95" stroke="#4a9a4a" stroke-width="0.9"/>
<line x1="57.46" y1="260.09" x2="57.46" y2="267.99" stroke="#4a9a4a" stroke-width="0.9"/>
<line x1="55.66" y1="260.09" x2="59.26" y2="260.09" stroke="#4a9a4a" stroke-width="0.9"/>
<line x1="55.66" y1="267.99" x2="59.26" y2="267.99" stroke="#4a9a4a" stroke-width="0.9"/>
<line x1="82.78" y1="244.93" x2="82.78" y2="275.24" stroke="#4a9a4a" stroke-width="0.9"/>
<line x1="80.98" y1="244.93" x2="84.58" y2="244.93" stroke="#4a9a4a" stroke-width="0.9"/>
<line x1="80.98" y1="275.24" x2="84.58" y2="275.24" stroke="#4a9a4a" stroke-width="0.9"/>
<line x1="104.98" y1="300.02" x2="104.98" y2="310.57" stroke="#4a9a4a" stroke-width="0.9"/>
<line x1="103.18" y1="300.02" x2="106.78" y2="300.02" stroke="#4a9a4a" stroke-width="0.9"/>
<line x1="103.18" y1="310.57" x2="106.78" y2="310.57" stroke="#4a9a4a" stroke-width="0.9"/>
<line x1="113.5" y1="262.72" x2="113.5" y2="285.13" stroke="#4a9a4a" stroke-width="0.9"/>
<line x1="111.7" y1="262.72" x2="115.3" y2="262.72" stroke="#4a9a4a" stroke-width="0.9"/>
<line x1="111.7" y1="285.13" x2="115.3" y2="285.13" stroke="#4a9a4a" stroke-width="0.9"/>
<line x1="139.06" y1="306.74" x2="139.06" y2="327.83" stroke="#4a9a4a" stroke-width="0.9"/>
<line x1="137.26" y1="306.74" x2="140.86" y2="306.74" stroke="#4a9a4a" stroke-width="0.9"/>
<line x1="137.26" y1="327.83" x2="140.86" y2="327.83" stroke="#4a9a4a" stroke-width="0.9"/>
<line x1="164.62" y1="290.8" x2="164.62" y2="307.93" stroke="#4a9a4a" stroke-width="0.9"/>
<line x1="162.82" y1="290.8" x2="166.42" y2="290.8" stroke="#4a9a4a" stroke-width="0.9"/>
<line x1="162.82" y1="307.93" x2="166.42" y2="307.93" stroke="#4a9a4a" stroke-width="0.9"/>
<line x1="241.3" y1="293.69" x2="241.3" y2="330.6" stroke="#4a9a4a" stroke-width="0.9"/>
<line x1="239.5" y1="293.69" x2="243.1" y2="293.69" stroke="#4a9a4a" stroke-width="0.9"/>
<line x1="239.5" y1="330.6" x2="243.1" y2="330.6" stroke="#4a9a4a" stroke-width="0.9"/>
<polyline points="45.12,251.52 47.33,250.86 51.13,252.18 57.46,258.24 82.78,277.88 104.98,309.25 113.5,311.88 139.06,341.27 164.62,347.73 241.3,357.62" fill="none" stroke="#e8141e" stroke-width="1.25" stroke-linejoin="round"/>
<polyline points="45.12,242.95 47.33,244.93 51.13,246.91 57.46,249.15 82.78,267.99 104.98,326.78 113.5,345.76 139.06,367.5 164.62,369.88 241.3,367.5" fill="none" stroke="#1020e8" stroke-width="1.25" stroke-linejoin="round"/>
<polyline points="45.12,240.32 47.33,239 51.13,238.34 57.46,237.02 82.78,252.84 104.98,296.99 113.5,357.62 139.06,361.57 164.62,349.05 241.3,342.59" fill="none" stroke="#ea68e0" stroke-width="1.25" stroke-linejoin="round"/>
<polyline points="45.12,340.88 47.33,349.84 51.13,359.6 57.46,356.3 82.78,344.44 104.98,360.25 113.5,355.64 139.06,359.6 164.62,359.2 241.3,358.94" fill="none" stroke="#a8a8a8" stroke-width="1.25" stroke-linejoin="round"/>
<polyline points="45.12,277.22 47.33,269.31 51.13,266.68 57.46,264.04 82.78,260.09 104.98,305.29 113.5,273.93 139.06,317.29 164.62,299.36 241.3,312.15" fill="none" stroke="#238a23" stroke-width="1.25" stroke-linejoin="round"/>
</g>
<g clip-path="url(#cR)">
<line x1="47.33" y1="247.56" x2="47.33" y2="254.16" stroke="#e05050" stroke-width="0.9"/>
<line x1="45.53" y1="247.56" x2="49.13" y2="247.56" stroke="#e05050" stroke-width="0.9"/>
<line x1="45.53" y1="254.16" x2="49.13" y2="254.16" stroke="#e05050" stroke-width="0.9"/>
<line x1="104.98" y1="305.29" x2="104.98" y2="313.2" stroke="#e05050" stroke-width="0.9"/>
<line x1="103.18" y1="305.29" x2="106.78" y2="305.29" stroke="#e05050" stroke-width="0.9"/>
<line x1="103.18" y1="313.2" x2="106.78" y2="313.2" stroke="#e05050" stroke-width="0.9"/>
<line x1="139.06" y1="337.98" x2="139.06" y2="344.57" stroke="#e05050" stroke-width="0.9"/>
<line x1="137.26" y1="337.98" x2="140.86" y2="337.98" stroke="#e05050" stroke-width="0.9"/>
<line x1="137.26" y1="344.57" x2="140.86" y2="344.57" stroke="#e05050" stroke-width="0.9"/>
<line x1="164.62" y1="342.46" x2="164.62" y2="353" stroke="#e05050" stroke-width="0.9"/>
<line x1="162.82" y1="342.46" x2="166.42" y2="342.46" stroke="#e05050" stroke-width="0.9"/>
<line x1="162.82" y1="353" x2="166.42" y2="353" stroke="#e05050" stroke-width="0.9"/>
<line x1="241.3" y1="351.03" x2="241.3" y2="364.21" stroke="#e05050" stroke-width="0.9"/>
<line x1="239.5" y1="351.03" x2="243.1" y2="351.03" stroke="#e05050" stroke-width="0.9"/>
<line x1="239.5" y1="364.21" x2="243.1" y2="364.21" stroke="#e05050" stroke-width="0.9"/>
<line x1="104.98" y1="321.5" x2="104.98" y2="332.05" stroke="#3040e0" stroke-width="0.9"/>
<line x1="103.18" y1="321.5" x2="106.78" y2="321.5" stroke="#3040e0" stroke-width="0.9"/>
<line x1="103.18" y1="332.05" x2="106.78" y2="332.05" stroke="#3040e0" stroke-width="0.9"/>
<line x1="113.5" y1="341.8" x2="113.5" y2="349.71" stroke="#3040e0" stroke-width="0.9"/>
<line x1="111.7" y1="341.8" x2="115.3" y2="341.8" stroke="#3040e0" stroke-width="0.9"/>
<line x1="111.7" y1="349.71" x2="115.3" y2="349.71" stroke="#3040e0" stroke-width="0.9"/>
<line x1="164.62" y1="360.65" x2="164.62" y2="379.1" stroke="#3040e0" stroke-width="0.9"/>
<line x1="162.82" y1="360.65" x2="166.42" y2="360.65" stroke="#3040e0" stroke-width="0.9"/>
<line x1="162.82" y1="379.1" x2="166.42" y2="379.1" stroke="#3040e0" stroke-width="0.9"/>
<line x1="241.3" y1="359.6" x2="241.3" y2="375.41" stroke="#3040e0" stroke-width="0.9"/>
<line x1="239.5" y1="359.6" x2="243.1" y2="359.6" stroke="#3040e0" stroke-width="0.9"/>
<line x1="239.5" y1="375.41" x2="243.1" y2="375.41" stroke="#3040e0" stroke-width="0.9"/>
<line x1="82.78" y1="243.61" x2="82.78" y2="262.06" stroke="#e080d8" stroke-width="0.9"/>
<line x1="80.98" y1="243.61" x2="84.58" y2="243.61" stroke="#e080d8" stroke-width="0.9"/>
<line x1="80.98" y1="262.06" x2="84.58" y2="262.06" stroke="#e080d8" stroke-width="0.9"/>
<line x1="104.98" y1="290.4" x2="104.98" y2="303.58" stroke="#e080d8" stroke-width="0.9"/>
<line x1="103.18" y1="290.4" x2="106.78" y2="290.4" stroke="#e080d8" stroke-width="0.9"/>
<line x1="103.18" y1="303.58" x2="106.78" y2="303.58" stroke="#e080d8" stroke-width="0.9"/>
<line x1="164.62" y1="342.46" x2="164.62" y2="355.64" stroke="#e080d8" stroke-width="0.9"/>
<line x1="162.82" y1="342.46" x2="166.42" y2="342.46" stroke="#e080d8" stroke-width="0.9"/>
<line x1="162.82" y1="355.64" x2="166.42" y2="355.64" stroke="#e080d8" stroke-width="0.9"/>
<line x1="241.3" y1="334.68" x2="241.3" y2="350.5" stroke="#e080d8" stroke-width="0.9"/>
<line x1="239.5" y1="334.68" x2="243.1" y2="334.68" stroke="#e080d8" stroke-width="0.9"/>
<line x1="239.5" y1="350.5" x2="243.1" y2="350.5" stroke="#e080d8" stroke-width="0.9"/>
<line x1="45.12" y1="334.29" x2="45.12" y2="347.47" stroke="#b0b0b0" stroke-width="0.9"/>
<line x1="43.32" y1="334.29" x2="46.92" y2="334.29" stroke="#b0b0b0" stroke-width="0.9"/>
<line x1="43.32" y1="347.47" x2="46.92" y2="347.47" stroke="#b0b0b0" stroke-width="0.9"/>
<line x1="47.33" y1="343.25" x2="47.33" y2="356.43" stroke="#b0b0b0" stroke-width="0.9"/>
<line x1="45.53" y1="343.25" x2="49.13" y2="343.25" stroke="#b0b0b0" stroke-width="0.9"/>
<line x1="45.53" y1="356.43" x2="49.13" y2="356.43" stroke="#b0b0b0" stroke-width="0.9"/>
<line x1="51.13" y1="354.32" x2="51.13" y2="364.87" stroke="#b0b0b0" stroke-width="0.9"/>
<line x1="49.33" y1="354.32" x2="52.93" y2="354.32" stroke="#b0b0b0" stroke-width="0.9"/>
<line x1="49.33" y1="364.87" x2="52.93" y2="364.87" stroke="#b0b0b0" stroke-width="0.9"/>
<line x1="57.46" y1="349.71" x2="57.46" y2="362.89" stroke="#b0b0b0" stroke-width="0.9"/>
<line x1="55.66" y1="349.71" x2="59.26" y2="349.71" stroke="#b0b0b0" stroke-width="0.9"/>
<line x1="55.66" y1="362.89" x2="59.26" y2="362.89" stroke="#b0b0b0" stroke-width="0.9"/>
<line x1="82.78" y1="335.87" x2="82.78" y2="353" stroke="#b0b0b0" stroke-width="0.9"/>
<line x1="80.98" y1="335.87" x2="84.58" y2="335.87" stroke="#b0b0b0" stroke-width="0.9"/>
<line x1="80.98" y1="353" x2="84.58" y2="353" stroke="#b0b0b0" stroke-width="0.9"/>
<line x1="104.98" y1="354.98" x2="104.98" y2="365.53" stroke="#b0b0b0" stroke-width="0.9"/>
<line x1="103.18" y1="354.98" x2="106.78" y2="354.98" stroke="#b0b0b0" stroke-width="0.9"/>
<line x1="103.18" y1="365.53" x2="106.78" y2="365.53" stroke="#b0b0b0" stroke-width="0.9"/>
<line x1="113.5" y1="349.05" x2="113.5" y2="362.23" stroke="#b0b0b0" stroke-width="0.9"/>
<line x1="111.7" y1="349.05" x2="115.3" y2="349.05" stroke="#b0b0b0" stroke-width="0.9"/>
<line x1="111.7" y1="362.23" x2="115.3" y2="362.23" stroke="#b0b0b0" stroke-width="0.9"/>
<line x1="139.06" y1="347.07" x2="139.06" y2="370.8" stroke="#b0b0b0" stroke-width="0.9"/>
<line x1="137.26" y1="347.07" x2="140.86" y2="347.07" stroke="#b0b0b0" stroke-width="0.9"/>
<line x1="137.26" y1="370.8" x2="140.86" y2="370.8" stroke="#b0b0b0" stroke-width="0.9"/>
<line x1="164.62" y1="351.03" x2="164.62" y2="364.21" stroke="#b0b0b0" stroke-width="0.9"/>
<line x1="162.82" y1="351.03" x2="166.42" y2="351.03" stroke="#b0b0b0" stroke-width="0.9"/>
<line x1="162.82" y1="364.21" x2="166.42" y2="364.21" stroke="#b0b0b0" stroke-width="0.9"/>
<line x1="47.33" y1="258.77" x2="47.33" y2="279.86" stroke="#4a9a4a" stroke-width="0.9"/>
<line x1="45.53" y1="258.77" x2="49.13" y2="258.77" stroke="#4a9a4a" stroke-width="0.9"/>
<line x1="45.53" y1="279.86" x2="49.13" y2="279.86" stroke="#4a9a4a" stroke-width="0.9"/>
<line x1="51.13" y1="261.4" x2="51.13" y2="271.95" stroke="#4a9a4a" stroke-width="0.9"/>
<line x1="49.33" y1="261.4" x2="52.93" y2="261.4" stroke="#4a9a4a" stroke-width="0.9"/>
<line x1="49.33" y1="271.95" x2="52.93" y2="271.95" stroke="#4a9a4a" stroke-width="0.9"/>
<line x1="57.46" y1="260.09" x2="57.46" y2="267.99" stroke="#4a9a4a" stroke-width="0.9"/>
<line x1="55.66" y1="260.09" x2="59.26" y2="260.09" stroke="#4a9a4a" stroke-width="0.9"/>
<line x1="55.66" y1="267.99" x2="59.26" y2="267.99" stroke="#4a9a4a" stroke-width="0.9"/>
<line x1="82.78" y1="244.93" x2="82.78" y2="275.24" stroke="#4a9a4a" stroke-width="0.9"/>
<line x1="80.98" y1="244.93" x2="84.58" y2="244.93" stroke="#4a9a4a" stroke-width="0.9"/>
<line x1="80.98" y1="275.24" x2="84.58" y2="275.24" stroke="#4a9a4a" stroke-width="0.9"/>
<line x1="104.98" y1="300.02" x2="104.98" y2="310.57" stroke="#4a9a4a" stroke-width="0.9"/>
<line x1="103.18" y1="300.02" x2="106.78" y2="300.02" stroke="#4a9a4a" stroke-width="0.9"/>
<line x1="103.18" y1="310.57" x2="106.78" y2="310.57" stroke="#4a9a4a" stroke-width="0.9"/>
<line x1="113.5" y1="262.72" x2="113.5" y2="285.13" stroke="#4a9a4a" stroke-width="0.9"/>
<line x1="111.7" y1="262.72" x2="115.3" y2="262.72" stroke="#4a9a4a" stroke-width="0.9"/>
<line x1="111.7" y1="285.13" x2="115.3" y2="285.13" stroke="#4a9a4a" stroke-width="0.9"/>
<line x1="139.06" y1="306.74" x2="139.06" y2="327.83" stroke="#4a9a4a" stroke-width="0.9"/>
<line x1="137.26" y1="306.74" x2="140.86" y2="306.74" stroke="#4a9a4a" stroke-width="0.9"/>
<line x1="137.26" y1="327.83" x2="140.86" y2="327.83" stroke="#4a9a4a" stroke-width="0.9"/>
<line x1="164.62" y1="290.8" x2="164.62" y2="307.93" stroke="#4a9a4a" stroke-width="0.9"/>
<line x1="162.82" y1="290.8" x2="166.42" y2="290.8" stroke="#4a9a4a" stroke-width="0.9"/>
<line x1="162.82" y1="307.93" x2="166.42" y2="307.93" stroke="#4a9a4a" stroke-width="0.9"/>
<line x1="241.3" y1="293.69" x2="241.3" y2="330.6" stroke="#4a9a4a" stroke-width="0.9"/>
<line x1="239.5" y1="293.69" x2="243.1" y2="293.69" stroke="#4a9a4a" stroke-width="0.9"/>
<line x1="239.5" y1="330.6" x2="243.1" y2="330.6" stroke="#4a9a4a" stroke-width="0.9"/>
<polyline points="45.12,251.52 47.33,250.86 51.13,252.18 57.46,258.24 82.78,277.88 104.98,309.25 113.5,311.88 139.06,341.27 164.62,347.73 241.3,357.62" fill="none" stroke="#e8141e" stroke-width="1.25" stroke-linejoin="round"/>
<polyline points="45.12,242.95 47.33,244.93 51.13,246.91 57.46,249.15 82.78,267.99 104.98,326.78 113.5,345.76 139.06,367.5 164.62,369.88 241.3,367.5" fill="none" stroke="#1020e8" stroke-width="1.25" stroke-linejoin="round"/>
<polyline points="45.12,240.32 47.33,239 51.13,238.34 57.46,237.02 82.78,252.84 104.98,296.99 113.5,357.62 139.06,361.57 164.62,349.05 241.3,342.59" fill="none" stroke="#ea68e0" stroke-width="1.25" stroke-linejoin="round"/>
<polyline points="45.12,340.88 47.33,349.84 51.13,359.6 57.46,356.3 82.78,344.44 104.98,360.25 113.5,355.64 139.06,359.6 164.62,359.2 241.3,358.94" fill="none" stroke="#a8a8a8" stroke-width="1.25" stroke-linejoin="round"/>
<polyline points="45.12,277.22 47.33,269.31 51.13,266.68 57.46,264.04 82.78,260.09 104.98,305.29 113.5,273.93 139.06,317.29 164.62,299.36 241.3,312.15" fill="none" stroke="#238a23" stroke-width="1.25" stroke-linejoin="round"/>
</g>
<g clip-path="url(#cL)">
<path d="M42.18,279.26 L48.05,279.26 L45.12,274.16 Z" fill="#238a23"/>
<path d="M44.4,271.35 L50.26,271.35 L47.33,266.25 Z" fill="#238a23"/>
<path d="M48.2,268.72 L54.06,268.72 L51.13,263.62 Z" fill="#238a23"/>
<path d="M54.53,266.08 L60.39,266.08 L57.46,260.98 Z" fill="#238a23"/>
<path d="M79.85,262.13 L85.71,262.13 L82.78,257.03 Z" fill="#238a23"/>
<path d="M102.05,307.33 L107.91,307.33 L104.98,302.23 Z" fill="#238a23"/>
<path d="M110.57,275.97 L116.43,275.97 L113.5,270.87 Z" fill="#238a23"/>
<path d="M136.13,319.33 L141.99,319.33 L139.06,314.23 Z" fill="#238a23"/>
<path d="M161.69,301.4 L167.55,301.4 L164.62,296.3 Z" fill="#238a23"/>
<path d="M238.37,314.19 L244.23,314.19 L241.3,309.09 Z" fill="#238a23"/>
<path d="M45.12,338.48 L47.52,340.88 L45.12,343.28 L42.72,340.88 Z" fill="#a8a8a8"/>
<path d="M47.33,347.44 L49.73,349.84 L47.33,352.24 L44.93,349.84 Z" fill="#a8a8a8"/>
<path d="M51.13,357.2 L53.53,359.6 L51.13,362 L48.73,359.6 Z" fill="#a8a8a8"/>
<path d="M57.46,353.9 L59.86,356.3 L57.46,358.7 L55.06,356.3 Z" fill="#a8a8a8"/>
<path d="M82.78,342.04 L85.18,344.44 L82.78,346.84 L80.38,344.44 Z" fill="#a8a8a8"/>
<path d="M104.98,357.85 L107.38,360.25 L104.98,362.65 L102.58,360.25 Z" fill="#a8a8a8"/>
<path d="M113.5,353.24 L115.9,355.64 L113.5,358.04 L111.1,355.64 Z" fill="#a8a8a8"/>
<path d="M139.06,357.2 L141.46,359.6 L139.06,362 L136.66,359.6 Z" fill="#a8a8a8"/>
<path d="M164.62,356.8 L167.02,359.2 L164.62,361.6 L162.22,359.2 Z" fill="#a8a8a8"/>
<path d="M241.3,356.54 L243.7,358.94 L241.3,361.34 L238.9,358.94 Z" fill="#a8a8a8"/>
<rect x="42.57" y="240.4" width="5.1" height="5.1" fill="#1020e8"/>
<rect x="44.78" y="242.38" width="5.1" height="5.1" fill="#1020e8"/>
<rect x="48.58" y="244.36" width="5.1" height="5.1" fill="#1020e8"/>
<rect x="54.91" y="246.6" width="5.1" height="5.1" fill="#1020e8"/>
<rect x="80.23" y="265.44" width="5.1" height="5.1" fill="#1020e8"/>
<rect x="102.43" y="324.23" width="5.1" height="5.1" fill="#1020e8"/>
<rect x="110.95" y="343.21" width="5.1" height="5.1" fill="#1020e8"/>
<rect x="136.51" y="364.95" width="5.1" height="5.1" fill="#1020e8"/>
<rect x="162.07" y="367.33" width="5.1" height="5.1" fill="#1020e8"/>
<rect x="238.75" y="364.95" width="5.1" height="5.1" fill="#1020e8"/>
<circle cx="45.12" cy="251.52" r="2.55" fill="#e8141e"/>
<circle cx="47.33" cy="250.86" r="2.55" fill="#e8141e"/>
<circle cx="51.13" cy="252.18" r="2.55" fill="#e8141e"/>
<circle cx="57.46" cy="258.24" r="2.55" fill="#e8141e"/>
<circle cx="82.78" cy="277.88" r="2.55" fill="#e8141e"/>
<circle cx="104.98" cy="309.25" r="2.55" fill="#e8141e"/>
<circle cx="113.5" cy="311.88" r="2.55" fill="#e8141e"/>
<circle cx="139.06" cy="341.27" r="2.55" fill="#e8141e"/>
<circle cx="164.62" cy="347.73" r="2.55" fill="#e8141e"/>
<circle cx="241.3" cy="357.62" r="2.55" fill="#e8141e"/>
<path d="M42.18,238.28 L48.05,238.28 L45.12,243.38 Z" fill="#ea68e0"/>
<path d="M44.4,236.96 L50.26,236.96 L47.33,242.06 Z" fill="#ea68e0"/>
<path d="M48.2,236.3 L54.06,236.3 L51.13,241.4 Z" fill="#ea68e0"/>
<path d="M54.53,234.98 L60.39,234.98 L57.46,240.08 Z" fill="#ea68e0"/>
<path d="M79.85,250.8 L85.71,250.8 L82.78,255.9 Z" fill="#ea68e0"/>
<path d="M102.05,294.95 L107.91,294.95 L104.98,300.05 Z" fill="#ea68e0"/>
<path d="M110.57,355.58 L116.43,355.58 L113.5,360.68 Z" fill="#ea68e0"/>
<path d="M136.13,359.53 L141.99,359.53 L139.06,364.63 Z" fill="#ea68e0"/>
<path d="M161.69,347.01 L167.55,347.01 L164.62,352.11 Z" fill="#ea68e0"/>
<path d="M238.37,340.55 L244.23,340.55 L241.3,345.65 Z" fill="#ea68e0"/>
</g>
<g clip-path="url(#cR)">
<path d="M42.18,279.26 L48.05,279.26 L45.12,274.16 Z" fill="#238a23"/>
<path d="M44.4,271.35 L50.26,271.35 L47.33,266.25 Z" fill="#238a23"/>
<path d="M48.2,268.72 L54.06,268.72 L51.13,263.62 Z" fill="#238a23"/>
<path d="M54.53,266.08 L60.39,266.08 L57.46,260.98 Z" fill="#238a23"/>
<path d="M79.85,262.13 L85.71,262.13 L82.78,257.03 Z" fill="#238a23"/>
<path d="M102.05,307.33 L107.91,307.33 L104.98,302.23 Z" fill="#238a23"/>
<path d="M110.57,275.97 L116.43,275.97 L113.5,270.87 Z" fill="#238a23"/>
<path d="M136.13,319.33 L141.99,319.33 L139.06,314.23 Z" fill="#238a23"/>
<path d="M161.69,301.4 L167.55,301.4 L164.62,296.3 Z" fill="#238a23"/>
<path d="M238.37,314.19 L244.23,314.19 L241.3,309.09 Z" fill="#238a23"/>
<path d="M45.12,338.48 L47.52,340.88 L45.12,343.28 L42.72,340.88 Z" fill="#a8a8a8"/>
<path d="M47.33,347.44 L49.73,349.84 L47.33,352.24 L44.93,349.84 Z" fill="#a8a8a8"/>
<path d="M51.13,357.2 L53.53,359.6 L51.13,362 L48.73,359.6 Z" fill="#a8a8a8"/>
<path d="M57.46,353.9 L59.86,356.3 L57.46,358.7 L55.06,356.3 Z" fill="#a8a8a8"/>
<path d="M82.78,342.04 L85.18,344.44 L82.78,346.84 L80.38,344.44 Z" fill="#a8a8a8"/>
<path d="M104.98,357.85 L107.38,360.25 L104.98,362.65 L102.58,360.25 Z" fill="#a8a8a8"/>
<path d="M113.5,353.24 L115.9,355.64 L113.5,358.04 L111.1,355.64 Z" fill="#a8a8a8"/>
<path d="M139.06,357.2 L141.46,359.6 L139.06,362 L136.66,359.6 Z" fill="#a8a8a8"/>
<path d="M164.62,356.8 L167.02,359.2 L164.62,361.6 L162.22,359.2 Z" fill="#a8a8a8"/>
<path d="M241.3,356.54 L243.7,358.94 L241.3,361.34 L238.9,358.94 Z" fill="#a8a8a8"/>
<rect x="42.57" y="240.4" width="5.1" height="5.1" fill="#1020e8"/>
<rect x="44.78" y="242.38" width="5.1" height="5.1" fill="#1020e8"/>
<rect x="48.58" y="244.36" width="5.1" height="5.1" fill="#1020e8"/>
<rect x="54.91" y="246.6" width="5.1" height="5.1" fill="#1020e8"/>
<rect x="80.23" y="265.44" width="5.1" height="5.1" fill="#1020e8"/>
<rect x="102.43" y="324.23" width="5.1" height="5.1" fill="#1020e8"/>
<rect x="110.95" y="343.21" width="5.1" height="5.1" fill="#1020e8"/>
<rect x="136.51" y="364.95" width="5.1" height="5.1" fill="#1020e8"/>
<rect x="162.07" y="367.33" width="5.1" height="5.1" fill="#1020e8"/>
<rect x="238.75" y="364.95" width="5.1" height="5.1" fill="#1020e8"/>
<circle cx="45.12" cy="251.52" r="2.55" fill="#e8141e"/>
<circle cx="47.33" cy="250.86" r="2.55" fill="#e8141e"/>
<circle cx="51.13" cy="252.18" r="2.55" fill="#e8141e"/>
<circle cx="57.46" cy="258.24" r="2.55" fill="#e8141e"/>
<circle cx="82.78" cy="277.88" r="2.55" fill="#e8141e"/>
<circle cx="104.98" cy="309.25" r="2.55" fill="#e8141e"/>
<circle cx="113.5" cy="311.88" r="2.55" fill="#e8141e"/>
<circle cx="139.06" cy="341.27" r="2.55" fill="#e8141e"/>
<circle cx="164.62" cy="347.73" r="2.55" fill="#e8141e"/>
<circle cx="241.3" cy="357.62" r="2.55" fill="#e8141e"/>
<path d="M42.18,238.28 L48.05,238.28 L45.12,243.38 Z" fill="#ea68e0"/>
<path d="M44.4,236.96 L50.26,236.96 L47.33,242.06 Z" fill="#ea68e0"/>
<path d="M48.2,236.3 L54.06,236.3 L51.13,241.4 Z" fill="#ea68e0"/>
<path d="M54.53,234.98 L60.39,234.98 L57.46,240.08 Z" fill="#ea68e0"/>
<path d="M79.85,250.8 L85.71,250.8 L82.78,255.9 Z" fill="#ea68e0"/>
<path d="M102.05,294.95 L107.91,294.95 L104.98,300.05 Z" fill="#ea68e0"/>
<path d="M110.57,355.58 L116.43,355.58 L113.5,360.68 Z" fill="#ea68e0"/>
<path d="M136.13,359.53 L141.99,359.53 L139.06,364.63 Z" fill="#ea68e0"/>
<path d="M161.69,347.01 L167.55,347.01 L164.62,352.11 Z" fill="#ea68e0"/>
<path d="M238.37,340.55 L244.23,340.55 L241.3,345.65 Z" fill="#ea68e0"/>
</g>
<line x1="44.6" y1="224.5" x2="44.6" y2="383.46" stroke="#000" stroke-width="1.9"/>
<line x1="41.6" y1="382.66" x2="44.6" y2="382.66" stroke="#000" stroke-width="1.5"/>
<line x1="42.6" y1="369.48" x2="44.6" y2="369.48" stroke="#000" stroke-width="1.5"/>
<line x1="41.6" y1="356.3" x2="44.6" y2="356.3" stroke="#000" stroke-width="1.5"/>
<line x1="42.6" y1="343.12" x2="44.6" y2="343.12" stroke="#000" stroke-width="1.5"/>
<line x1="41.6" y1="329.94" x2="44.6" y2="329.94" stroke="#000" stroke-width="1.5"/>
<line x1="42.6" y1="316.76" x2="44.6" y2="316.76" stroke="#000" stroke-width="1.5"/>
<line x1="41.6" y1="303.58" x2="44.6" y2="303.58" stroke="#000" stroke-width="1.5"/>
<line x1="42.6" y1="290.4" x2="44.6" y2="290.4" stroke="#000" stroke-width="1.5"/>
<line x1="41.6" y1="277.22" x2="44.6" y2="277.22" stroke="#000" stroke-width="1.5"/>
<line x1="42.6" y1="264.04" x2="44.6" y2="264.04" stroke="#000" stroke-width="1.5"/>
<line x1="41.6" y1="250.86" x2="44.6" y2="250.86" stroke="#000" stroke-width="1.5"/>
<line x1="42.6" y1="237.68" x2="44.6" y2="237.68" stroke="#000" stroke-width="1.5"/>
<line x1="41.6" y1="224.5" x2="44.6" y2="224.5" stroke="#000" stroke-width="1.5"/>
<line x1="43.7" y1="356.1" x2="95.8" y2="356.1" stroke="#000" stroke-width="1.9"/>
<line x1="101.5" y1="356.1" x2="247.3" y2="356.1" stroke="#000" stroke-width="1.9"/>
<line x1="47.96" y1="356.1" x2="47.96" y2="357.8" stroke="#000" stroke-width="1.2"/>
<line x1="51.13" y1="356.1" x2="51.13" y2="358.6" stroke="#000" stroke-width="1.5"/>
<line x1="54.3" y1="356.1" x2="54.3" y2="357.8" stroke="#000" stroke-width="1.2"/>
<line x1="57.46" y1="356.1" x2="57.46" y2="358.6" stroke="#000" stroke-width="1.5"/>
<line x1="60.62" y1="356.1" x2="60.62" y2="357.8" stroke="#000" stroke-width="1.2"/>
<line x1="63.79" y1="356.1" x2="63.79" y2="358.6" stroke="#000" stroke-width="1.5"/>
<line x1="66.95" y1="356.1" x2="66.95" y2="357.8" stroke="#000" stroke-width="1.2"/>
<line x1="70.12" y1="356.1" x2="70.12" y2="358.6" stroke="#000" stroke-width="1.5"/>
<line x1="73.28" y1="356.1" x2="73.28" y2="357.8" stroke="#000" stroke-width="1.2"/>
<line x1="76.45" y1="356.1" x2="76.45" y2="358.6" stroke="#000" stroke-width="1.5"/>
<line x1="79.61" y1="356.1" x2="79.61" y2="357.8" stroke="#000" stroke-width="1.2"/>
<line x1="82.78" y1="356.1" x2="82.78" y2="358.6" stroke="#000" stroke-width="1.5"/>
<line x1="85.94" y1="356.1" x2="85.94" y2="357.8" stroke="#000" stroke-width="1.2"/>
<line x1="89.11" y1="356.1" x2="89.11" y2="358.6" stroke="#000" stroke-width="1.5"/>
<line x1="92.28" y1="356.1" x2="92.28" y2="357.8" stroke="#000" stroke-width="1.2"/>
<line x1="95.44" y1="356.1" x2="95.44" y2="358.6" stroke="#000" stroke-width="1.5"/>
<line x1="109.24" y1="356.1" x2="109.24" y2="358.5" stroke="#000" stroke-width="1.5"/>
<line x1="130.54" y1="356.1" x2="130.54" y2="358.5" stroke="#000" stroke-width="1.5"/>
<line x1="151.84" y1="356.1" x2="151.84" y2="358.5" stroke="#000" stroke-width="1.5"/>
<line x1="173.14" y1="356.1" x2="173.14" y2="358.5" stroke="#000" stroke-width="1.5"/>
<line x1="194.44" y1="356.1" x2="194.44" y2="358.5" stroke="#000" stroke-width="1.5"/>
<line x1="215.74" y1="356.1" x2="215.74" y2="358.5" stroke="#000" stroke-width="1.5"/>
<line x1="237.04" y1="356.1" x2="237.04" y2="358.5" stroke="#000" stroke-width="1.5"/>
<line x1="150" y1="222.5" x2="162.8" y2="222.5" stroke="#e8141e" stroke-width="1.5"/>
<circle cx="156.5" cy="222.5" r="2.4" fill="#e8141e"/>
<text x="166.8" y="226" font-size="10.3" text-anchor="start" font-family='"Liberation Serif", serif' font-weight="bold" fill="#000">whole blood</text>
<line x1="150" y1="235.1" x2="162.8" y2="235.1" stroke="#1020e8" stroke-width="1.5"/>
<rect x="154.1" y="232.7" width="4.8" height="4.8" fill="#1020e8"/>
<text x="166.8" y="238.6" font-size="10.3" text-anchor="start" font-family='"Liberation Serif", serif' font-weight="bold" fill="#000">lung</text>
<line x1="150" y1="247.7" x2="162.8" y2="247.7" stroke="#ea68e0" stroke-width="1.5"/>
<path d="M153.74,245.78 L159.26,245.78 L156.5,250.58 Z" fill="#ea68e0"/>
<text x="166.8" y="251.2" font-size="10.3" text-anchor="start" font-family='"Liberation Serif", serif' font-weight="bold" fill="#000">liver</text>
<line x1="150" y1="260.3" x2="162.8" y2="260.3" stroke="#a8a8a8" stroke-width="1.5"/>
<path d="M156.5,257.7 L159.1,260.3 L156.5,262.9 L153.9,260.3 Z" fill="#a8a8a8"/>
<text x="166.8" y="263.8" font-size="10.3" text-anchor="start" font-family='"Liberation Serif", serif' font-weight="bold" fill="#000">brain</text>
<line x1="150" y1="272.9" x2="162.8" y2="272.9" stroke="#238a23" stroke-width="1.5"/>
<path d="M153.74,274.82 L159.26,274.82 L156.5,270.02 Z" fill="#238a23"/>
<text x="166.8" y="276.4" font-size="10.3" text-anchor="start" font-family='"Liberation Serif", serif' font-weight="bold" fill="#000">RPMI8226 tumor</text>
<text x="255.2" y="210.6" font-size="16.5" text-anchor="start" font-family='"Liberation Sans", sans-serif' font-weight="bold" fill="#000">D</text>
<text x="278.1" y="300.4" font-size="10.7" text-anchor="middle" font-family='"Liberation Serif", serif' font-weight="bold" fill="#000" transform="rotate(-90 278.1 300.4)">% inhibition</text>
<text x="292.6" y="229.5" font-size="10" text-anchor="end" font-family='"Liberation Serif", serif' font-weight="bold" fill="#000">100</text>
<text x="292.6" y="255.3" font-size="10" text-anchor="end" font-family='"Liberation Serif", serif' font-weight="bold" fill="#000">80</text>
<text x="292.6" y="281.1" font-size="10" text-anchor="end" font-family='"Liberation Serif", serif' font-weight="bold" fill="#000">60</text>
<text x="292.6" y="306.9" font-size="10" text-anchor="end" font-family='"Liberation Serif", serif' font-weight="bold" fill="#000">40</text>
<text x="292.6" y="332.7" font-size="10" text-anchor="end" font-family='"Liberation Serif", serif' font-weight="bold" fill="#000">20</text>
<text x="292.6" y="358.5" font-size="10" text-anchor="end" font-family='"Liberation Serif", serif' font-weight="bold" fill="#000">0</text>
<text x="292.6" y="384.3" font-size="10" text-anchor="end" font-family='"Liberation Serif", serif' font-weight="bold" fill="#000">-20</text>
<text x="309.48" y="368.3" font-size="10" text-anchor="middle" font-family='"Liberation Serif", serif' font-weight="bold" fill="#000">2</text>
<text x="321.96" y="368.3" font-size="10" text-anchor="middle" font-family='"Liberation Serif", serif' font-weight="bold" fill="#000">4</text>
<text x="334.44" y="368.3" font-size="10" text-anchor="middle" font-family='"Liberation Serif", serif' font-weight="bold" fill="#000">6</text>
<text x="346.92" y="368.3" font-size="10" text-anchor="middle" font-family='"Liberation Serif", serif' font-weight="bold" fill="#000">8</text>
<text x="360.72" y="368.3" font-size="10" text-anchor="middle" font-family='"Liberation Serif", serif' font-weight="bold" fill="#000">20</text>
<text x="381.6" y="368.3" font-size="10" text-anchor="middle" font-family='"Liberation Serif", serif' font-weight="bold" fill="#000">40</text>
<text x="402.48" y="368.3" font-size="10" text-anchor="middle" font-family='"Liberation Serif", serif' font-weight="bold" fill="#000">60</text>
<text x="423.36" y="368.3" font-size="10" text-anchor="middle" font-family='"Liberation Serif", serif' font-weight="bold" fill="#000">80</text>
<text x="444.24" y="368.3" font-size="10" text-anchor="middle" font-family='"Liberation Serif", serif' font-weight="bold" fill="#000">100</text>
<text x="465.12" y="368.3" font-size="10" text-anchor="middle" font-family='"Liberation Serif", serif' font-weight="bold" fill="#000">120</text>
<text x="486" y="368.3" font-size="10" text-anchor="middle" font-family='"Liberation Serif", serif' font-weight="bold" fill="#000">140</text>
<text x="376.1" y="376.5" font-size="10.2" text-anchor="start" font-family='"Liberation Serif", serif' font-weight="bold" fill="#000">time (h)</text>
<text x="347.6" y="227.2" font-size="10.1" text-anchor="start" font-family='"Liberation Serif", serif' font-weight="bold" fill="#000">CEP</text>
<g clip-path="url(#dL)">
<line x1="299.5" y1="245.06" x2="299.5" y2="252.8" stroke="#e05050" stroke-width="0.9"/>
<line x1="297.7" y1="245.06" x2="301.3" y2="245.06" stroke="#e05050" stroke-width="0.9"/>
<line x1="297.7" y1="252.8" x2="301.3" y2="252.8" stroke="#e05050" stroke-width="0.9"/>
<line x1="334.44" y1="266.99" x2="334.44" y2="279.89" stroke="#e05050" stroke-width="0.9"/>
<line x1="332.64" y1="266.99" x2="336.24" y2="266.99" stroke="#e05050" stroke-width="0.9"/>
<line x1="332.64" y1="279.89" x2="336.24" y2="279.89" stroke="#e05050" stroke-width="0.9"/>
<line x1="356.55" y1="308.27" x2="356.55" y2="316.01" stroke="#e05050" stroke-width="0.9"/>
<line x1="354.75" y1="308.27" x2="358.35" y2="308.27" stroke="#e05050" stroke-width="0.9"/>
<line x1="354.75" y1="316.01" x2="358.35" y2="316.01" stroke="#e05050" stroke-width="0.9"/>
<line x1="364.9" y1="314.98" x2="364.9" y2="322.72" stroke="#e05050" stroke-width="0.9"/>
<line x1="363.1" y1="314.98" x2="366.7" y2="314.98" stroke="#e05050" stroke-width="0.9"/>
<line x1="363.1" y1="322.72" x2="366.7" y2="322.72" stroke="#e05050" stroke-width="0.9"/>
<line x1="389.96" y1="324.27" x2="389.96" y2="332.01" stroke="#e05050" stroke-width="0.9"/>
<line x1="388.16" y1="324.27" x2="391.76" y2="324.27" stroke="#e05050" stroke-width="0.9"/>
<line x1="388.16" y1="332.01" x2="391.76" y2="332.01" stroke="#e05050" stroke-width="0.9"/>
<line x1="415.01" y1="332.14" x2="415.01" y2="341.17" stroke="#e05050" stroke-width="0.9"/>
<line x1="413.21" y1="332.14" x2="416.81" y2="332.14" stroke="#e05050" stroke-width="0.9"/>
<line x1="413.21" y1="341.17" x2="416.81" y2="341.17" stroke="#e05050" stroke-width="0.9"/>
<line x1="490.18" y1="343.36" x2="490.18" y2="353.68" stroke="#e05050" stroke-width="0.9"/>
<line x1="488.38" y1="343.36" x2="491.98" y2="343.36" stroke="#e05050" stroke-width="0.9"/>
<line x1="488.38" y1="353.68" x2="491.98" y2="353.68" stroke="#e05050" stroke-width="0.9"/>
<line x1="389.96" y1="350.71" x2="389.96" y2="358.45" stroke="#3040e0" stroke-width="0.9"/>
<line x1="388.16" y1="350.71" x2="391.76" y2="350.71" stroke="#3040e0" stroke-width="0.9"/>
<line x1="388.16" y1="358.45" x2="391.76" y2="358.45" stroke="#3040e0" stroke-width="0.9"/>
<line x1="415.01" y1="351.75" x2="415.01" y2="359.49" stroke="#3040e0" stroke-width="0.9"/>
<line x1="413.21" y1="351.75" x2="416.81" y2="351.75" stroke="#3040e0" stroke-width="0.9"/>
<line x1="413.21" y1="359.49" x2="416.81" y2="359.49" stroke="#3040e0" stroke-width="0.9"/>
<line x1="490.18" y1="350.33" x2="490.18" y2="363.23" stroke="#3040e0" stroke-width="0.9"/>
<line x1="488.38" y1="350.33" x2="491.98" y2="350.33" stroke="#3040e0" stroke-width="0.9"/>
<line x1="488.38" y1="363.23" x2="491.98" y2="363.23" stroke="#3040e0" stroke-width="0.9"/>
<line x1="334.44" y1="251.77" x2="334.44" y2="259.51" stroke="#e080d8" stroke-width="0.9"/>
<line x1="332.64" y1="251.77" x2="336.24" y2="251.77" stroke="#e080d8" stroke-width="0.9"/>
<line x1="332.64" y1="259.51" x2="336.24" y2="259.51" stroke="#e080d8" stroke-width="0.9"/>
<line x1="356.55" y1="300.92" x2="356.55" y2="311.24" stroke="#e080d8" stroke-width="0.9"/>
<line x1="354.75" y1="300.92" x2="358.35" y2="300.92" stroke="#e080d8" stroke-width="0.9"/>
<line x1="354.75" y1="311.24" x2="358.35" y2="311.24" stroke="#e080d8" stroke-width="0.9"/>
<line x1="389.96" y1="369.94" x2="389.96" y2="380.25" stroke="#e080d8" stroke-width="0.9"/>
<line x1="388.16" y1="369.94" x2="391.76" y2="369.94" stroke="#e080d8" stroke-width="0.9"/>
<line x1="388.16" y1="380.25" x2="391.76" y2="380.25" stroke="#e080d8" stroke-width="0.9"/>
<line x1="415.01" y1="361.94" x2="415.01" y2="380" stroke="#e080d8" stroke-width="0.9"/>
<line x1="413.21" y1="361.94" x2="416.81" y2="361.94" stroke="#e080d8" stroke-width="0.9"/>
<line x1="413.21" y1="380" x2="416.81" y2="380" stroke="#e080d8" stroke-width="0.9"/>
<line x1="490.18" y1="345.68" x2="490.18" y2="366.32" stroke="#e080d8" stroke-width="0.9"/>
<line x1="488.38" y1="345.68" x2="491.98" y2="345.68" stroke="#e080d8" stroke-width="0.9"/>
<line x1="488.38" y1="366.32" x2="491.98" y2="366.32" stroke="#e080d8" stroke-width="0.9"/>
<line x1="299.5" y1="326.59" x2="299.5" y2="400.64" stroke="#b8b8b8" stroke-width="0.9"/>
<line x1="297.7" y1="326.59" x2="301.3" y2="326.59" stroke="#b8b8b8" stroke-width="0.9"/>
<line x1="297.7" y1="400.64" x2="301.3" y2="400.64" stroke="#b8b8b8" stroke-width="0.9"/>
<line x1="303.24" y1="340.27" x2="303.24" y2="381.55" stroke="#b8b8b8" stroke-width="0.9"/>
<line x1="301.44" y1="340.27" x2="305.04" y2="340.27" stroke="#b8b8b8" stroke-width="0.9"/>
<line x1="301.44" y1="381.55" x2="305.04" y2="381.55" stroke="#b8b8b8" stroke-width="0.9"/>
<line x1="309.48" y1="332.65" x2="309.48" y2="390.96" stroke="#b8b8b8" stroke-width="0.9"/>
<line x1="307.68" y1="332.65" x2="311.28" y2="332.65" stroke="#b8b8b8" stroke-width="0.9"/>
<line x1="307.68" y1="390.96" x2="311.28" y2="390.96" stroke="#b8b8b8" stroke-width="0.9"/>
<line x1="334.44" y1="332.14" x2="334.44" y2="394.83" stroke="#b8b8b8" stroke-width="0.9"/>
<line x1="332.64" y1="332.14" x2="336.24" y2="332.14" stroke="#b8b8b8" stroke-width="0.9"/>
<line x1="332.64" y1="394.83" x2="336.24" y2="394.83" stroke="#b8b8b8" stroke-width="0.9"/>
<line x1="389.96" y1="344.01" x2="389.96" y2="354.33" stroke="#b8b8b8" stroke-width="0.9"/>
<line x1="388.16" y1="344.01" x2="391.76" y2="344.01" stroke="#b8b8b8" stroke-width="0.9"/>
<line x1="388.16" y1="354.33" x2="391.76" y2="354.33" stroke="#b8b8b8" stroke-width="0.9"/>
<line x1="415.01" y1="344.78" x2="415.01" y2="358.97" stroke="#b8b8b8" stroke-width="0.9"/>
<line x1="413.21" y1="344.78" x2="416.81" y2="344.78" stroke="#b8b8b8" stroke-width="0.9"/>
<line x1="413.21" y1="358.97" x2="416.81" y2="358.97" stroke="#b8b8b8" stroke-width="0.9"/>
<line x1="490.18" y1="342.2" x2="490.18" y2="357.68" stroke="#b8b8b8" stroke-width="0.9"/>
<line x1="488.38" y1="342.2" x2="491.98" y2="342.2" stroke="#b8b8b8" stroke-width="0.9"/>
<line x1="488.38" y1="357.68" x2="491.98" y2="357.68" stroke="#b8b8b8" stroke-width="0.9"/>
<line x1="299.5" y1="237.71" x2="299.5" y2="266.09" stroke="#4a9a4a" stroke-width="0.9"/>
<line x1="297.7" y1="237.71" x2="301.3" y2="237.71" stroke="#4a9a4a" stroke-width="0.9"/>
<line x1="297.7" y1="266.09" x2="301.3" y2="266.09" stroke="#4a9a4a" stroke-width="0.9"/>
<line x1="303.24" y1="239" x2="303.24" y2="254.48" stroke="#4a9a4a" stroke-width="0.9"/>
<line x1="301.44" y1="239" x2="305.04" y2="239" stroke="#4a9a4a" stroke-width="0.9"/>
<line x1="301.44" y1="254.48" x2="305.04" y2="254.48" stroke="#4a9a4a" stroke-width="0.9"/>
<line x1="309.48" y1="232.29" x2="309.48" y2="243.9" stroke="#4a9a4a" stroke-width="0.9"/>
<line x1="307.68" y1="232.29" x2="311.28" y2="232.29" stroke="#4a9a4a" stroke-width="0.9"/>
<line x1="307.68" y1="243.9" x2="311.28" y2="243.9" stroke="#4a9a4a" stroke-width="0.9"/>
<line x1="389.96" y1="264.16" x2="389.96" y2="275.76" stroke="#4a9a4a" stroke-width="0.9"/>
<line x1="388.16" y1="264.16" x2="391.76" y2="264.16" stroke="#4a9a4a" stroke-width="0.9"/>
<line x1="388.16" y1="275.76" x2="391.76" y2="275.76" stroke="#4a9a4a" stroke-width="0.9"/>
<line x1="415.01" y1="266.48" x2="415.01" y2="283.25" stroke="#4a9a4a" stroke-width="0.9"/>
<line x1="413.21" y1="266.48" x2="416.81" y2="266.48" stroke="#4a9a4a" stroke-width="0.9"/>
<line x1="413.21" y1="283.25" x2="416.81" y2="283.25" stroke="#4a9a4a" stroke-width="0.9"/>
<line x1="490.18" y1="273.83" x2="490.18" y2="317.69" stroke="#4a9a4a" stroke-width="0.9"/>
<line x1="488.38" y1="273.83" x2="491.98" y2="273.83" stroke="#4a9a4a" stroke-width="0.9"/>
<line x1="488.38" y1="317.69" x2="491.98" y2="317.69" stroke="#4a9a4a" stroke-width="0.9"/>
<polyline points="297.31,250.61 299.5,248.93 303.24,250.61 309.48,252.29 334.44,273.44 356.55,312.14 364.9,318.85 389.96,328.14 415.01,336.65 490.18,348.52" fill="none" stroke="#e8141e" stroke-width="1.25" stroke-linejoin="round"/>
<polyline points="297.31,241.58 299.5,244.16 303.24,245.06 309.48,244.42 334.44,263.77 356.55,326.2 364.9,342.72 389.96,354.58 415.01,355.62 490.18,356.78" fill="none" stroke="#1020e8" stroke-width="1.25" stroke-linejoin="round"/>
<polyline points="297.31,246.74 299.5,248.03 303.24,245.97 309.48,243.26 334.44,255.64 356.55,306.08 364.9,326.2 389.96,375.1 415.01,370.97 490.18,356" fill="none" stroke="#ea68e0" stroke-width="1.25" stroke-linejoin="round"/>
<polyline points="297.31,315.11 299.5,362.07 303.24,360.91 309.48,361.55 334.44,362.84 356.55,338.72 364.9,347.75 389.96,349.17 415.01,351.88 490.18,349.94" fill="none" stroke="#a8a8a8" stroke-width="1.25" stroke-linejoin="round"/>
<polyline points="297.31,259.64 299.5,251.9 303.24,246.74 309.48,238.1 334.44,235.39 356.55,239.26 364.9,241.58 389.96,269.96 415.01,274.86 490.18,295.76" fill="none" stroke="#238a23" stroke-width="1.25" stroke-linejoin="round"/>
</g>
<g clip-path="url(#dR)">
<line x1="299.5" y1="245.06" x2="299.5" y2="252.8" stroke="#e05050" stroke-width="0.9"/>
<line x1="297.7" y1="245.06" x2="301.3" y2="245.06" stroke="#e05050" stroke-width="0.9"/>
<line x1="297.7" y1="252.8" x2="301.3" y2="252.8" stroke="#e05050" stroke-width="0.9"/>
<line x1="334.44" y1="266.99" x2="334.44" y2="279.89" stroke="#e05050" stroke-width="0.9"/>
<line x1="332.64" y1="266.99" x2="336.24" y2="266.99" stroke="#e05050" stroke-width="0.9"/>
<line x1="332.64" y1="279.89" x2="336.24" y2="279.89" stroke="#e05050" stroke-width="0.9"/>
<line x1="356.55" y1="308.27" x2="356.55" y2="316.01" stroke="#e05050" stroke-width="0.9"/>
<line x1="354.75" y1="308.27" x2="358.35" y2="308.27" stroke="#e05050" stroke-width="0.9"/>
<line x1="354.75" y1="316.01" x2="358.35" y2="316.01" stroke="#e05050" stroke-width="0.9"/>
<line x1="364.9" y1="314.98" x2="364.9" y2="322.72" stroke="#e05050" stroke-width="0.9"/>
<line x1="363.1" y1="314.98" x2="366.7" y2="314.98" stroke="#e05050" stroke-width="0.9"/>
<line x1="363.1" y1="322.72" x2="366.7" y2="322.72" stroke="#e05050" stroke-width="0.9"/>
<line x1="389.96" y1="324.27" x2="389.96" y2="332.01" stroke="#e05050" stroke-width="0.9"/>
<line x1="388.16" y1="324.27" x2="391.76" y2="324.27" stroke="#e05050" stroke-width="0.9"/>
<line x1="388.16" y1="332.01" x2="391.76" y2="332.01" stroke="#e05050" stroke-width="0.9"/>
<line x1="415.01" y1="332.14" x2="415.01" y2="341.17" stroke="#e05050" stroke-width="0.9"/>
<line x1="413.21" y1="332.14" x2="416.81" y2="332.14" stroke="#e05050" stroke-width="0.9"/>
<line x1="413.21" y1="341.17" x2="416.81" y2="341.17" stroke="#e05050" stroke-width="0.9"/>
<line x1="490.18" y1="343.36" x2="490.18" y2="353.68" stroke="#e05050" stroke-width="0.9"/>
<line x1="488.38" y1="343.36" x2="491.98" y2="343.36" stroke="#e05050" stroke-width="0.9"/>
<line x1="488.38" y1="353.68" x2="491.98" y2="353.68" stroke="#e05050" stroke-width="0.9"/>
<line x1="389.96" y1="350.71" x2="389.96" y2="358.45" stroke="#3040e0" stroke-width="0.9"/>
<line x1="388.16" y1="350.71" x2="391.76" y2="350.71" stroke="#3040e0" stroke-width="0.9"/>
<line x1="388.16" y1="358.45" x2="391.76" y2="358.45" stroke="#3040e0" stroke-width="0.9"/>
<line x1="415.01" y1="351.75" x2="415.01" y2="359.49" stroke="#3040e0" stroke-width="0.9"/>
<line x1="413.21" y1="351.75" x2="416.81" y2="351.75" stroke="#3040e0" stroke-width="0.9"/>
<line x1="413.21" y1="359.49" x2="416.81" y2="359.49" stroke="#3040e0" stroke-width="0.9"/>
<line x1="490.18" y1="350.33" x2="490.18" y2="363.23" stroke="#3040e0" stroke-width="0.9"/>
<line x1="488.38" y1="350.33" x2="491.98" y2="350.33" stroke="#3040e0" stroke-width="0.9"/>
<line x1="488.38" y1="363.23" x2="491.98" y2="363.23" stroke="#3040e0" stroke-width="0.9"/>
<line x1="334.44" y1="251.77" x2="334.44" y2="259.51" stroke="#e080d8" stroke-width="0.9"/>
<line x1="332.64" y1="251.77" x2="336.24" y2="251.77" stroke="#e080d8" stroke-width="0.9"/>
<line x1="332.64" y1="259.51" x2="336.24" y2="259.51" stroke="#e080d8" stroke-width="0.9"/>
<line x1="356.55" y1="300.92" x2="356.55" y2="311.24" stroke="#e080d8" stroke-width="0.9"/>
<line x1="354.75" y1="300.92" x2="358.35" y2="300.92" stroke="#e080d8" stroke-width="0.9"/>
<line x1="354.75" y1="311.24" x2="358.35" y2="311.24" stroke="#e080d8" stroke-width="0.9"/>
<line x1="389.96" y1="369.94" x2="389.96" y2="380.25" stroke="#e080d8" stroke-width="0.9"/>
<line x1="388.16" y1="369.94" x2="391.76" y2="369.94" stroke="#e080d8" stroke-width="0.9"/>
<line x1="388.16" y1="380.25" x2="391.76" y2="380.25" stroke="#e080d8" stroke-width="0.9"/>
<line x1="415.01" y1="361.94" x2="415.01" y2="380" stroke="#e080d8" stroke-width="0.9"/>
<line x1="413.21" y1="361.94" x2="416.81" y2="361.94" stroke="#e080d8" stroke-width="0.9"/>
<line x1="413.21" y1="380" x2="416.81" y2="380" stroke="#e080d8" stroke-width="0.9"/>
<line x1="490.18" y1="345.68" x2="490.18" y2="366.32" stroke="#e080d8" stroke-width="0.9"/>
<line x1="488.38" y1="345.68" x2="491.98" y2="345.68" stroke="#e080d8" stroke-width="0.9"/>
<line x1="488.38" y1="366.32" x2="491.98" y2="366.32" stroke="#e080d8" stroke-width="0.9"/>
<line x1="299.5" y1="326.59" x2="299.5" y2="400.64" stroke="#b8b8b8" stroke-width="0.9"/>
<line x1="297.7" y1="326.59" x2="301.3" y2="326.59" stroke="#b8b8b8" stroke-width="0.9"/>
<line x1="297.7" y1="400.64" x2="301.3" y2="400.64" stroke="#b8b8b8" stroke-width="0.9"/>
<line x1="303.24" y1="340.27" x2="303.24" y2="381.55" stroke="#b8b8b8" stroke-width="0.9"/>
<line x1="301.44" y1="340.27" x2="305.04" y2="340.27" stroke="#b8b8b8" stroke-width="0.9"/>
<line x1="301.44" y1="381.55" x2="305.04" y2="381.55" stroke="#b8b8b8" stroke-width="0.9"/>
<line x1="309.48" y1="332.65" x2="309.48" y2="390.96" stroke="#b8b8b8" stroke-width="0.9"/>
<line x1="307.68" y1="332.65" x2="311.28" y2="332.65" stroke="#b8b8b8" stroke-width="0.9"/>
<line x1="307.68" y1="390.96" x2="311.28" y2="390.96" stroke="#b8b8b8" stroke-width="0.9"/>
<line x1="334.44" y1="332.14" x2="334.44" y2="394.83" stroke="#b8b8b8" stroke-width="0.9"/>
<line x1="332.64" y1="332.14" x2="336.24" y2="332.14" stroke="#b8b8b8" stroke-width="0.9"/>
<line x1="332.64" y1="394.83" x2="336.24" y2="394.83" stroke="#b8b8b8" stroke-width="0.9"/>
<line x1="389.96" y1="344.01" x2="389.96" y2="354.33" stroke="#b8b8b8" stroke-width="0.9"/>
<line x1="388.16" y1="344.01" x2="391.76" y2="344.01" stroke="#b8b8b8" stroke-width="0.9"/>
<line x1="388.16" y1="354.33" x2="391.76" y2="354.33" stroke="#b8b8b8" stroke-width="0.9"/>
<line x1="415.01" y1="344.78" x2="415.01" y2="358.97" stroke="#b8b8b8" stroke-width="0.9"/>
<line x1="413.21" y1="344.78" x2="416.81" y2="344.78" stroke="#b8b8b8" stroke-width="0.9"/>
<line x1="413.21" y1="358.97" x2="416.81" y2="358.97" stroke="#b8b8b8" stroke-width="0.9"/>
<line x1="490.18" y1="342.2" x2="490.18" y2="357.68" stroke="#b8b8b8" stroke-width="0.9"/>
<line x1="488.38" y1="342.2" x2="491.98" y2="342.2" stroke="#b8b8b8" stroke-width="0.9"/>
<line x1="488.38" y1="357.68" x2="491.98" y2="357.68" stroke="#b8b8b8" stroke-width="0.9"/>
<line x1="299.5" y1="237.71" x2="299.5" y2="266.09" stroke="#4a9a4a" stroke-width="0.9"/>
<line x1="297.7" y1="237.71" x2="301.3" y2="237.71" stroke="#4a9a4a" stroke-width="0.9"/>
<line x1="297.7" y1="266.09" x2="301.3" y2="266.09" stroke="#4a9a4a" stroke-width="0.9"/>
<line x1="303.24" y1="239" x2="303.24" y2="254.48" stroke="#4a9a4a" stroke-width="0.9"/>
<line x1="301.44" y1="239" x2="305.04" y2="239" stroke="#4a9a4a" stroke-width="0.9"/>
<line x1="301.44" y1="254.48" x2="305.04" y2="254.48" stroke="#4a9a4a" stroke-width="0.9"/>
<line x1="309.48" y1="232.29" x2="309.48" y2="243.9" stroke="#4a9a4a" stroke-width="0.9"/>
<line x1="307.68" y1="232.29" x2="311.28" y2="232.29" stroke="#4a9a4a" stroke-width="0.9"/>
<line x1="307.68" y1="243.9" x2="311.28" y2="243.9" stroke="#4a9a4a" stroke-width="0.9"/>
<line x1="389.96" y1="264.16" x2="389.96" y2="275.76" stroke="#4a9a4a" stroke-width="0.9"/>
<line x1="388.16" y1="264.16" x2="391.76" y2="264.16" stroke="#4a9a4a" stroke-width="0.9"/>
<line x1="388.16" y1="275.76" x2="391.76" y2="275.76" stroke="#4a9a4a" stroke-width="0.9"/>
<line x1="415.01" y1="266.48" x2="415.01" y2="283.25" stroke="#4a9a4a" stroke-width="0.9"/>
<line x1="413.21" y1="266.48" x2="416.81" y2="266.48" stroke="#4a9a4a" stroke-width="0.9"/>
<line x1="413.21" y1="283.25" x2="416.81" y2="283.25" stroke="#4a9a4a" stroke-width="0.9"/>
<line x1="490.18" y1="273.83" x2="490.18" y2="317.69" stroke="#4a9a4a" stroke-width="0.9"/>
<line x1="488.38" y1="273.83" x2="491.98" y2="273.83" stroke="#4a9a4a" stroke-width="0.9"/>
<line x1="488.38" y1="317.69" x2="491.98" y2="317.69" stroke="#4a9a4a" stroke-width="0.9"/>
<polyline points="297.31,250.61 299.5,248.93 303.24,250.61 309.48,252.29 334.44,273.44 356.55,312.14 364.9,318.85 389.96,328.14 415.01,336.65 490.18,348.52" fill="none" stroke="#e8141e" stroke-width="1.25" stroke-linejoin="round"/>
<polyline points="297.31,241.58 299.5,244.16 303.24,245.06 309.48,244.42 334.44,263.77 356.55,326.2 364.9,342.72 389.96,354.58 415.01,355.62 490.18,356.78" fill="none" stroke="#1020e8" stroke-width="1.25" stroke-linejoin="round"/>
<polyline points="297.31,246.74 299.5,248.03 303.24,245.97 309.48,243.26 334.44,255.64 356.55,306.08 364.9,326.2 389.96,375.1 415.01,370.97 490.18,356" fill="none" stroke="#ea68e0" stroke-width="1.25" stroke-linejoin="round"/>
<polyline points="297.31,315.11 299.5,362.07 303.24,360.91 309.48,361.55 334.44,362.84 356.55,338.72 364.9,347.75 389.96,349.17 415.01,351.88 490.18,349.94" fill="none" stroke="#a8a8a8" stroke-width="1.25" stroke-linejoin="round"/>
<polyline points="297.31,259.64 299.5,251.9 303.24,246.74 309.48,238.1 334.44,235.39 356.55,239.26 364.9,241.58 389.96,269.96 415.01,274.86 490.18,295.76" fill="none" stroke="#238a23" stroke-width="1.25" stroke-linejoin="round"/>
</g>
<g clip-path="url(#dL)">
<path d="M294.38,261.68 L300.24,261.68 L297.31,256.58 Z" fill="#238a23"/>
<path d="M296.56,253.94 L302.43,253.94 L299.5,248.84 Z" fill="#238a23"/>
<path d="M300.31,248.78 L306.17,248.78 L303.24,243.68 Z" fill="#238a23"/>
<path d="M306.55,240.14 L312.41,240.14 L309.48,235.04 Z" fill="#238a23"/>
<path d="M331.51,237.43 L337.37,237.43 L334.44,232.33 Z" fill="#238a23"/>
<path d="M353.62,241.3 L359.48,241.3 L356.55,236.2 Z" fill="#238a23"/>
<path d="M361.97,243.62 L367.83,243.62 L364.9,238.52 Z" fill="#238a23"/>
<path d="M387.02,272 L392.89,272 L389.96,266.9 Z" fill="#238a23"/>
<path d="M412.08,276.9 L417.94,276.9 L415.01,271.8 Z" fill="#238a23"/>
<path d="M487.25,297.8 L493.11,297.8 L490.18,292.7 Z" fill="#238a23"/>
<path d="M297.31,312.71 L299.71,315.11 L297.31,317.51 L294.91,315.11 Z" fill="#a8a8a8"/>
<path d="M299.5,359.67 L301.9,362.07 L299.5,364.47 L297.1,362.07 Z" fill="#a8a8a8"/>
<path d="M303.24,358.51 L305.64,360.91 L303.24,363.31 L300.84,360.91 Z" fill="#a8a8a8"/>
<path d="M309.48,359.15 L311.88,361.55 L309.48,363.95 L307.08,361.55 Z" fill="#a8a8a8"/>
<path d="M334.44,360.44 L336.84,362.84 L334.44,365.24 L332.04,362.84 Z" fill="#a8a8a8"/>
<path d="M356.55,336.32 L358.95,338.72 L356.55,341.12 L354.15,338.72 Z" fill="#a8a8a8"/>
<path d="M364.9,345.35 L367.3,347.75 L364.9,350.15 L362.5,347.75 Z" fill="#a8a8a8"/>
<path d="M389.96,346.77 L392.36,349.17 L389.96,351.57 L387.56,349.17 Z" fill="#a8a8a8"/>
<path d="M415.01,349.48 L417.41,351.88 L415.01,354.27 L412.61,351.88 Z" fill="#a8a8a8"/>
<path d="M490.18,347.54 L492.58,349.94 L490.18,352.34 L487.78,349.94 Z" fill="#a8a8a8"/>
<rect x="294.76" y="239.03" width="5.1" height="5.1" fill="#1020e8"/>
<rect x="296.95" y="241.61" width="5.1" height="5.1" fill="#1020e8"/>
<rect x="300.69" y="242.51" width="5.1" height="5.1" fill="#1020e8"/>
<rect x="306.93" y="241.87" width="5.1" height="5.1" fill="#1020e8"/>
<rect x="331.89" y="261.22" width="5.1" height="5.1" fill="#1020e8"/>
<rect x="354" y="323.65" width="5.1" height="5.1" fill="#1020e8"/>
<rect x="362.35" y="340.17" width="5.1" height="5.1" fill="#1020e8"/>
<rect x="387.41" y="352.03" width="5.1" height="5.1" fill="#1020e8"/>
<rect x="412.46" y="353.07" width="5.1" height="5.1" fill="#1020e8"/>
<rect x="487.63" y="354.23" width="5.1" height="5.1" fill="#1020e8"/>
<circle cx="297.31" cy="250.61" r="2.55" fill="#e8141e"/>
<circle cx="299.5" cy="248.93" r="2.55" fill="#e8141e"/>
<circle cx="303.24" cy="250.61" r="2.55" fill="#e8141e"/>
<circle cx="309.48" cy="252.29" r="2.55" fill="#e8141e"/>
<circle cx="334.44" cy="273.44" r="2.55" fill="#e8141e"/>
<circle cx="356.55" cy="312.14" r="2.55" fill="#e8141e"/>
<circle cx="364.9" cy="318.85" r="2.55" fill="#e8141e"/>
<circle cx="389.96" cy="328.14" r="2.55" fill="#e8141e"/>
<circle cx="415.01" cy="336.65" r="2.55" fill="#e8141e"/>
<circle cx="490.18" cy="348.52" r="2.55" fill="#e8141e"/>
<path d="M294.38,244.7 L300.24,244.7 L297.31,249.8 Z" fill="#ea68e0"/>
<path d="M296.56,245.99 L302.43,245.99 L299.5,251.09 Z" fill="#ea68e0"/>
<path d="M300.31,243.93 L306.17,243.93 L303.24,249.03 Z" fill="#ea68e0"/>
<path d="M306.55,241.22 L312.41,241.22 L309.48,246.32 Z" fill="#ea68e0"/>
<path d="M331.51,253.6 L337.37,253.6 L334.44,258.7 Z" fill="#ea68e0"/>
<path d="M353.62,304.04 L359.48,304.04 L356.55,309.14 Z" fill="#ea68e0"/>
<path d="M361.97,324.16 L367.83,324.16 L364.9,329.26 Z" fill="#ea68e0"/>
<path d="M387.02,373.06 L392.89,373.06 L389.96,378.16 Z" fill="#ea68e0"/>
<path d="M412.08,368.93 L417.94,368.93 L415.01,374.03 Z" fill="#ea68e0"/>
<path d="M487.25,353.96 L493.11,353.96 L490.18,359.06 Z" fill="#ea68e0"/>
</g>
<g clip-path="url(#dR)">
<path d="M294.38,261.68 L300.24,261.68 L297.31,256.58 Z" fill="#238a23"/>
<path d="M296.56,253.94 L302.43,253.94 L299.5,248.84 Z" fill="#238a23"/>
<path d="M300.31,248.78 L306.17,248.78 L303.24,243.68 Z" fill="#238a23"/>
<path d="M306.55,240.14 L312.41,240.14 L309.48,235.04 Z" fill="#238a23"/>
<path d="M331.51,237.43 L337.37,237.43 L334.44,232.33 Z" fill="#238a23"/>
<path d="M353.62,241.3 L359.48,241.3 L356.55,236.2 Z" fill="#238a23"/>
<path d="M361.97,243.62 L367.83,243.62 L364.9,238.52 Z" fill="#238a23"/>
<path d="M387.02,272 L392.89,272 L389.96,266.9 Z" fill="#238a23"/>
<path d="M412.08,276.9 L417.94,276.9 L415.01,271.8 Z" fill="#238a23"/>
<path d="M487.25,297.8 L493.11,297.8 L490.18,292.7 Z" fill="#238a23"/>
<path d="M297.31,312.71 L299.71,315.11 L297.31,317.51 L294.91,315.11 Z" fill="#a8a8a8"/>
<path d="M299.5,359.67 L301.9,362.07 L299.5,364.47 L297.1,362.07 Z" fill="#a8a8a8"/>
<path d="M303.24,358.51 L305.64,360.91 L303.24,363.31 L300.84,360.91 Z" fill="#a8a8a8"/>
<path d="M309.48,359.15 L311.88,361.55 L309.48,363.95 L307.08,361.55 Z" fill="#a8a8a8"/>
<path d="M334.44,360.44 L336.84,362.84 L334.44,365.24 L332.04,362.84 Z" fill="#a8a8a8"/>
<path d="M356.55,336.32 L358.95,338.72 L356.55,341.12 L354.15,338.72 Z" fill="#a8a8a8"/>
<path d="M364.9,345.35 L367.3,347.75 L364.9,350.15 L362.5,347.75 Z" fill="#a8a8a8"/>
<path d="M389.96,346.77 L392.36,349.17 L389.96,351.57 L387.56,349.17 Z" fill="#a8a8a8"/>
<path d="M415.01,349.48 L417.41,351.88 L415.01,354.27 L412.61,351.88 Z" fill="#a8a8a8"/>
<path d="M490.18,347.54 L492.58,349.94 L490.18,352.34 L487.78,349.94 Z" fill="#a8a8a8"/>
<rect x="294.76" y="239.03" width="5.1" height="5.1" fill="#1020e8"/>
<rect x="296.95" y="241.61" width="5.1" height="5.1" fill="#1020e8"/>
<rect x="300.69" y="242.51" width="5.1" height="5.1" fill="#1020e8"/>
<rect x="306.93" y="241.87" width="5.1" height="5.1" fill="#1020e8"/>
<rect x="331.89" y="261.22" width="5.1" height="5.1" fill="#1020e8"/>
<rect x="354" y="323.65" width="5.1" height="5.1" fill="#1020e8"/>
<rect x="362.35" y="340.17" width="5.1" height="5.1" fill="#1020e8"/>
<rect x="387.41" y="352.03" width="5.1" height="5.1" fill="#1020e8"/>
<rect x="412.46" y="353.07" width="5.1" height="5.1" fill="#1020e8"/>
<rect x="487.63" y="354.23" width="5.1" height="5.1" fill="#1020e8"/>
<circle cx="297.31" cy="250.61" r="2.55" fill="#e8141e"/>
<circle cx="299.5" cy="248.93" r="2.55" fill="#e8141e"/>
<circle cx="303.24" cy="250.61" r="2.55" fill="#e8141e"/>
<circle cx="309.48" cy="252.29" r="2.55" fill="#e8141e"/>
<circle cx="334.44" cy="273.44" r="2.55" fill="#e8141e"/>
<circle cx="356.55" cy="312.14" r="2.55" fill="#e8141e"/>
<circle cx="364.9" cy="318.85" r="2.55" fill="#e8141e"/>
<circle cx="389.96" cy="328.14" r="2.55" fill="#e8141e"/>
<circle cx="415.01" cy="336.65" r="2.55" fill="#e8141e"/>
<circle cx="490.18" cy="348.52" r="2.55" fill="#e8141e"/>
<path d="M294.38,244.7 L300.24,244.7 L297.31,249.8 Z" fill="#ea68e0"/>
<path d="M296.56,245.99 L302.43,245.99 L299.5,251.09 Z" fill="#ea68e0"/>
<path d="M300.31,243.93 L306.17,243.93 L303.24,249.03 Z" fill="#ea68e0"/>
<path d="M306.55,241.22 L312.41,241.22 L309.48,246.32 Z" fill="#ea68e0"/>
<path d="M331.51,253.6 L337.37,253.6 L334.44,258.7 Z" fill="#ea68e0"/>
<path d="M353.62,304.04 L359.48,304.04 L356.55,309.14 Z" fill="#ea68e0"/>
<path d="M361.97,324.16 L367.83,324.16 L364.9,329.26 Z" fill="#ea68e0"/>
<path d="M387.02,373.06 L392.89,373.06 L389.96,378.16 Z" fill="#ea68e0"/>
<path d="M412.08,368.93 L417.94,368.93 L415.01,374.03 Z" fill="#ea68e0"/>
<path d="M487.25,353.96 L493.11,353.96 L490.18,359.06 Z" fill="#ea68e0"/>
</g>
<line x1="297.2" y1="226.1" x2="297.2" y2="381.7" stroke="#000" stroke-width="1.9"/>
<line x1="294.2" y1="380.9" x2="297.2" y2="380.9" stroke="#000" stroke-width="1.5"/>
<line x1="295.2" y1="368" x2="297.2" y2="368" stroke="#000" stroke-width="1.5"/>
<line x1="294.2" y1="355.1" x2="297.2" y2="355.1" stroke="#000" stroke-width="1.5"/>
<line x1="295.2" y1="342.2" x2="297.2" y2="342.2" stroke="#000" stroke-width="1.5"/>
<line x1="294.2" y1="329.3" x2="297.2" y2="329.3" stroke="#000" stroke-width="1.5"/>
<line x1="295.2" y1="316.4" x2="297.2" y2="316.4" stroke="#000" stroke-width="1.5"/>
<line x1="294.2" y1="303.5" x2="297.2" y2="303.5" stroke="#000" stroke-width="1.5"/>
<line x1="295.2" y1="290.6" x2="297.2" y2="290.6" stroke="#000" stroke-width="1.5"/>
<line x1="294.2" y1="277.7" x2="297.2" y2="277.7" stroke="#000" stroke-width="1.5"/>
<line x1="295.2" y1="264.8" x2="297.2" y2="264.8" stroke="#000" stroke-width="1.5"/>
<line x1="294.2" y1="251.9" x2="297.2" y2="251.9" stroke="#000" stroke-width="1.5"/>
<line x1="295.2" y1="239" x2="297.2" y2="239" stroke="#000" stroke-width="1.5"/>
<line x1="294.2" y1="226.1" x2="297.2" y2="226.1" stroke="#000" stroke-width="1.5"/>
<line x1="296.3" y1="355.1" x2="348.2" y2="355.1" stroke="#000" stroke-width="1.9"/>
<line x1="353.5" y1="355.1" x2="496" y2="355.1" stroke="#000" stroke-width="1.9"/>
<line x1="300.12" y1="355.1" x2="300.12" y2="356.8" stroke="#000" stroke-width="1.2"/>
<line x1="303.24" y1="355.1" x2="303.24" y2="357.6" stroke="#000" stroke-width="1.5"/>
<line x1="306.36" y1="355.1" x2="306.36" y2="356.8" stroke="#000" stroke-width="1.2"/>
<line x1="309.48" y1="355.1" x2="309.48" y2="357.6" stroke="#000" stroke-width="1.5"/>
<line x1="312.6" y1="355.1" x2="312.6" y2="356.8" stroke="#000" stroke-width="1.2"/>
<line x1="315.72" y1="355.1" x2="315.72" y2="357.6" stroke="#000" stroke-width="1.5"/>
<line x1="318.84" y1="355.1" x2="318.84" y2="356.8" stroke="#000" stroke-width="1.2"/>
<line x1="321.96" y1="355.1" x2="321.96" y2="357.6" stroke="#000" stroke-width="1.5"/>
<line x1="325.08" y1="355.1" x2="325.08" y2="356.8" stroke="#000" stroke-width="1.2"/>
<line x1="328.2" y1="355.1" x2="328.2" y2="357.6" stroke="#000" stroke-width="1.5"/>
<line x1="331.32" y1="355.1" x2="331.32" y2="356.8" stroke="#000" stroke-width="1.2"/>
<line x1="334.44" y1="355.1" x2="334.44" y2="357.6" stroke="#000" stroke-width="1.5"/>
<line x1="337.56" y1="355.1" x2="337.56" y2="356.8" stroke="#000" stroke-width="1.2"/>
<line x1="340.68" y1="355.1" x2="340.68" y2="357.6" stroke="#000" stroke-width="1.5"/>
<line x1="343.8" y1="355.1" x2="343.8" y2="356.8" stroke="#000" stroke-width="1.2"/>
<line x1="346.92" y1="355.1" x2="346.92" y2="357.6" stroke="#000" stroke-width="1.5"/>
<line x1="360.72" y1="355.1" x2="360.72" y2="357.5" stroke="#000" stroke-width="1.5"/>
<line x1="381.6" y1="355.1" x2="381.6" y2="357.5" stroke="#000" stroke-width="1.5"/>
<line x1="402.48" y1="355.1" x2="402.48" y2="357.5" stroke="#000" stroke-width="1.5"/>
<line x1="423.36" y1="355.1" x2="423.36" y2="357.5" stroke="#000" stroke-width="1.5"/>
<line x1="444.24" y1="355.1" x2="444.24" y2="357.5" stroke="#000" stroke-width="1.5"/>
<line x1="465.12" y1="355.1" x2="465.12" y2="357.5" stroke="#000" stroke-width="1.5"/>
<line x1="486" y1="355.1" x2="486" y2="357.5" stroke="#000" stroke-width="1.5"/>
<line x1="417.4" y1="209.3" x2="430" y2="209.3" stroke="#e8141e" stroke-width="1.5"/>
<circle cx="423.8" cy="209.3" r="2.4" fill="#e8141e"/>
<text x="432.8" y="212.8" font-size="10.3" text-anchor="start" font-family='"Liberation Serif", serif' font-weight="bold" fill="#000">whole blood</text>
<line x1="417.4" y1="221.4" x2="430" y2="221.4" stroke="#1020e8" stroke-width="1.5"/>
<rect x="421.4" y="219" width="4.8" height="4.8" fill="#1020e8"/>
<text x="432.8" y="224.9" font-size="10.3" text-anchor="start" font-family='"Liberation Serif", serif' font-weight="bold" fill="#000">lung</text>
<line x1="417.4" y1="234" x2="430" y2="234" stroke="#ea68e0" stroke-width="1.5"/>
<path d="M421.04,232.08 L426.56,232.08 L423.8,236.88 Z" fill="#ea68e0"/>
<text x="432.8" y="237.5" font-size="10.3" text-anchor="start" font-family='"Liberation Serif", serif' font-weight="bold" fill="#000">liver</text>
<line x1="417.4" y1="245.6" x2="430" y2="245.6" stroke="#a8a8a8" stroke-width="1.5"/>
<path d="M423.8,243 L426.4,245.6 L423.8,248.2 L421.2,245.6 Z" fill="#a8a8a8"/>
<text x="432.8" y="249.1" font-size="10.3" text-anchor="start" font-family='"Liberation Serif", serif' font-weight="bold" fill="#000">brain</text>
<line x1="417.4" y1="257.6" x2="430" y2="257.6" stroke="#238a23" stroke-width="1.5"/>
<path d="M421.04,259.52 L426.56,259.52 L423.8,254.72 Z" fill="#238a23"/>
<text x="432.8" y="261.1" font-size="10.3" text-anchor="start" font-family='"Liberation Serif", serif' font-weight="bold" fill="#000">RPMI8226 tumor</text>
<circle cx="490.18" cy="348.52" r="1.3" fill="#fff"/>
</svg></body></html>
